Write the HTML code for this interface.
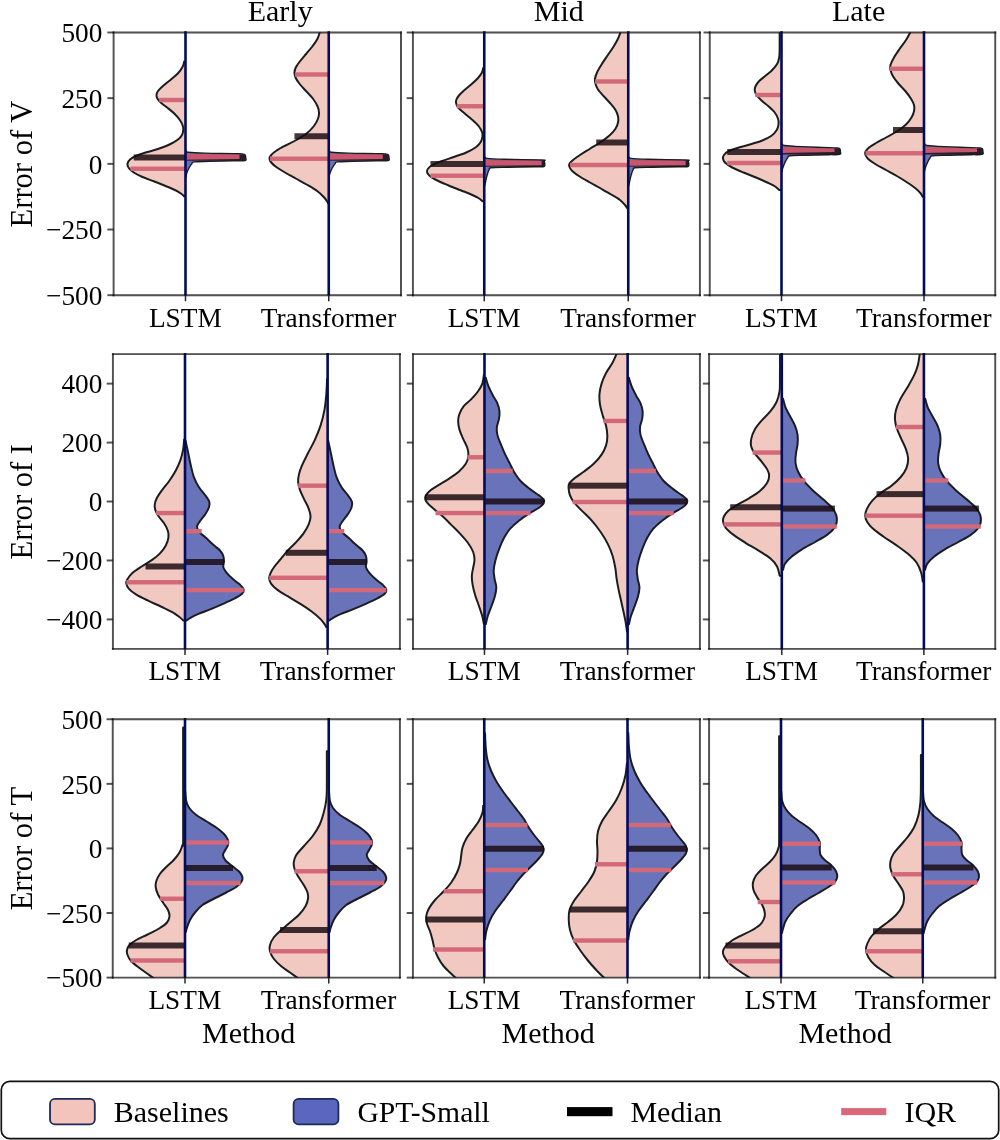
<!DOCTYPE html>
<html><head><meta charset="utf-8"><title>Violin plots</title>
<style>html,body{margin:0;padding:0;background:#fff;overflow:hidden}svg{display:block}text{font-family:"Liberation Serif", serif;fill:#000}</style></head>
<body>
<svg width="1000" height="1140" viewBox="0 0 1000 1140">
<rect width="1000" height="1140" fill="#fff"/>
<defs>
<clipPath id="c00"><rect x="113.6" y="32.5" width="287.4" height="262.7"/></clipPath>
<clipPath id="c01"><rect x="412.9" y="32.5" width="287" height="262.7"/></clipPath>
<clipPath id="c02"><rect x="709.75" y="32.5" width="285.5" height="262.7"/></clipPath>
<clipPath id="c10"><rect x="112.9" y="354.15" width="287" height="294.75"/></clipPath>
<clipPath id="c11"><rect x="413" y="354.15" width="286.9" height="294.75"/></clipPath>
<clipPath id="c12"><rect x="709.1" y="354.15" width="286.15" height="294.75"/></clipPath>
<clipPath id="c20"><rect x="112.75" y="719.25" width="287.15" height="258.35"/></clipPath>
<clipPath id="c21"><rect x="412.9" y="719.25" width="287" height="258.35"/></clipPath>
<clipPath id="c22"><rect x="709.1" y="719.25" width="286.15" height="258.35"/></clipPath>
<filter id="soft" x="0" y="0" width="1000" height="1070" filterUnits="userSpaceOnUse"><feGaussianBlur stdDeviation="0.45"/></filter>
<filter id="nop" x="0" y="1070" width="1000" height="70" filterUnits="userSpaceOnUse"><feOffset dx="0" dy="0"/></filter>
</defs>
<g filter="url(#soft)">
<g clip-path="url(#c00)">
<path d="M185.5 60.75 L184.5 60.75C184.17 61.79 183.58 64.92 182.5 67C181.42 69.08 179.88 71.21 178 73.25C176.12 75.29 173.62 77.25 171.25 79.25C168.88 81.25 165.92 83.33 163.75 85.25C161.58 87.17 159.46 89.12 158.25 90.75C157.04 92.38 156.62 93.67 156.5 95C156.38 96.33 156.71 97.42 157.5 98.75C158.29 100.08 159.5 101.42 161.25 103C163 104.58 165.79 106.46 168 108.25C170.21 110.04 172.58 111.88 174.5 113.75C176.42 115.62 178.17 117.62 179.5 119.5C180.83 121.38 181.88 123.25 182.5 125C183.12 126.75 183.33 128.33 183.25 130C183.17 131.67 182.88 133.42 182 135C181.12 136.58 180 137.96 178 139.5C176 141.04 173 142.79 170 144.25C167 145.71 163.75 146.96 160 148.25C156.25 149.54 151.46 150.75 147.5 152C143.54 153.25 139.17 154.5 136.25 155.75C133.33 157 131.46 158.17 130 159.5C128.54 160.83 127.71 162.33 127.5 163.75C127.29 165.17 127.71 166.54 128.75 168C129.79 169.46 131.46 171 133.75 172.5C136.04 174 139.17 175.54 142.5 177C145.83 178.46 150 179.79 153.75 181.25C157.5 182.71 161.46 184.29 165 185.75C168.54 187.21 172.29 188.67 175 190C177.71 191.33 179.75 192.71 181.25 193.75C182.75 194.79 183.54 195.83 184 196.25L185.5 196.25 Z" fill="#f1c9c0"/><path d="M184.5 60.75C184.17 61.79 183.58 64.92 182.5 67C181.42 69.08 179.88 71.21 178 73.25C176.12 75.29 173.62 77.25 171.25 79.25C168.88 81.25 165.92 83.33 163.75 85.25C161.58 87.17 159.46 89.12 158.25 90.75C157.04 92.38 156.62 93.67 156.5 95C156.38 96.33 156.71 97.42 157.5 98.75C158.29 100.08 159.5 101.42 161.25 103C163 104.58 165.79 106.46 168 108.25C170.21 110.04 172.58 111.88 174.5 113.75C176.42 115.62 178.17 117.62 179.5 119.5C180.83 121.38 181.88 123.25 182.5 125C183.12 126.75 183.33 128.33 183.25 130C183.17 131.67 182.88 133.42 182 135C181.12 136.58 180 137.96 178 139.5C176 141.04 173 142.79 170 144.25C167 145.71 163.75 146.96 160 148.25C156.25 149.54 151.46 150.75 147.5 152C143.54 153.25 139.17 154.5 136.25 155.75C133.33 157 131.46 158.17 130 159.5C128.54 160.83 127.71 162.33 127.5 163.75C127.29 165.17 127.71 166.54 128.75 168C129.79 169.46 131.46 171 133.75 172.5C136.04 174 139.17 175.54 142.5 177C145.83 178.46 150 179.79 153.75 181.25C157.5 182.71 161.46 184.29 165 185.75C168.54 187.21 172.29 188.67 175 190C177.71 191.33 179.75 192.71 181.25 193.75C182.75 194.79 183.54 195.83 184 196.25L185.5 196.25" fill="none" stroke="#1e1e1e" stroke-width="2.0" stroke-linejoin="round"/>
<path d="M185.5 150.6 L186.3 150.6C186.67 150.88 185.3 151.87 188.5 152.3C191.7 152.73 197 152.91 205.5 153.16C214 153.41 232.93 153.53 239.5 153.8C246.07 154.07 243.87 154.15 244.9 154.8C245.93 155.45 245.7 156.73 245.7 157.7C245.7 158.67 246.93 160.07 244.9 160.6C242.87 161.13 239.4 160.77 233.5 160.9C227.6 161.03 216.08 161.23 209.5 161.4C202.92 161.57 196.93 161.53 194 161.9C191.07 162.27 192.73 162.58 191.9 163.6C191.07 164.62 189.87 166.37 189 168C188.13 169.63 187.23 171.83 186.7 173.4C186.17 174.97 185.95 176.73 185.8 177.4L185.5 177.4 Z" fill="#6873ba"/><path d="M186.3 150.6C186.67 150.88 185.3 151.87 188.5 152.3C191.7 152.73 197 152.91 205.5 153.16C214 153.41 232.93 153.53 239.5 153.8C246.07 154.07 243.87 154.15 244.9 154.8C245.93 155.45 245.7 156.73 245.7 157.7C245.7 158.67 246.93 160.07 244.9 160.6C242.87 161.13 239.4 160.77 233.5 160.9C227.6 161.03 216.08 161.23 209.5 161.4C202.92 161.57 196.93 161.53 194 161.9C191.07 162.27 192.73 162.58 191.9 163.6C191.07 164.62 189.87 166.37 189 168C188.13 169.63 187.23 171.83 186.7 173.4C186.17 174.97 185.95 176.73 185.8 177.4" fill="none" stroke="#1e1e1e" stroke-width="1.4" stroke-linejoin="round"/>
<rect x="133.75" y="154.5" width="51.75" height="6" fill="rgba(22,10,14,0.82)"/>
<rect x="159.25" y="97.8" width="26.25" height="4.4" fill="#d36878"/>
<rect x="130.5" y="166.55" width="55" height="4.4" fill="#d36878"/>
<rect x="185.5" y="154.7" width="59.9" height="6" fill="rgba(22,10,14,0.82)"/>
<path d="M185.50 153.80 L239.50 154.50 L239.50 158.90 L185.50 159.70 Z" fill="#c9566c"/>
<path d="M328.75 30 L320.5 30C320 31.46 318.83 36.04 317.5 38.75C316.17 41.46 314.38 43.75 312.5 46.25C310.62 48.75 308.33 51.25 306.25 53.75C304.17 56.25 301.75 58.96 300 61.25C298.25 63.54 296.67 65.62 295.75 67.5C294.83 69.38 294.54 70.83 294.5 72.5C294.46 74.17 294.67 75.62 295.5 77.5C296.33 79.38 297.71 81.46 299.5 83.75C301.29 86.04 304 88.75 306.25 91.25C308.5 93.75 311.12 96.25 313 98.75C314.88 101.25 316.5 103.96 317.5 106.25C318.5 108.54 318.92 110.42 319 112.5C319.08 114.58 318.88 116.46 318 118.75C317.12 121.04 315.71 123.75 313.75 126.25C311.79 128.75 309.17 131.46 306.25 133.75C303.33 136.04 299.79 138 296.25 140C292.71 142 288.33 143.96 285 145.75C281.67 147.54 278.54 149.21 276.25 150.75C273.96 152.29 272.38 153.67 271.25 155C270.12 156.33 269.5 157.5 269.5 158.75C269.5 160 270.12 161.12 271.25 162.5C272.38 163.88 273.96 165.33 276.25 167C278.54 168.67 281.67 170.54 285 172.5C288.33 174.46 292.5 176.67 296.25 178.75C300 180.83 303.96 182.92 307.5 185C311.04 187.08 314.79 189.25 317.5 191.25C320.21 193.25 322.17 195.33 323.75 197C325.33 198.67 326.25 200.12 327 201.25C327.75 202.38 328.04 203.33 328.25 203.75L328.75 203.75 Z" fill="#f1c9c0"/><path d="M328.75 30 L320.5 30C320 31.46 318.83 36.04 317.5 38.75C316.17 41.46 314.38 43.75 312.5 46.25C310.62 48.75 308.33 51.25 306.25 53.75C304.17 56.25 301.75 58.96 300 61.25C298.25 63.54 296.67 65.62 295.75 67.5C294.83 69.38 294.54 70.83 294.5 72.5C294.46 74.17 294.67 75.62 295.5 77.5C296.33 79.38 297.71 81.46 299.5 83.75C301.29 86.04 304 88.75 306.25 91.25C308.5 93.75 311.12 96.25 313 98.75C314.88 101.25 316.5 103.96 317.5 106.25C318.5 108.54 318.92 110.42 319 112.5C319.08 114.58 318.88 116.46 318 118.75C317.12 121.04 315.71 123.75 313.75 126.25C311.79 128.75 309.17 131.46 306.25 133.75C303.33 136.04 299.79 138 296.25 140C292.71 142 288.33 143.96 285 145.75C281.67 147.54 278.54 149.21 276.25 150.75C273.96 152.29 272.38 153.67 271.25 155C270.12 156.33 269.5 157.5 269.5 158.75C269.5 160 270.12 161.12 271.25 162.5C272.38 163.88 273.96 165.33 276.25 167C278.54 168.67 281.67 170.54 285 172.5C288.33 174.46 292.5 176.67 296.25 178.75C300 180.83 303.96 182.92 307.5 185C311.04 187.08 314.79 189.25 317.5 191.25C320.21 193.25 322.17 195.33 323.75 197C325.33 198.67 326.25 200.12 327 201.25C327.75 202.38 328.04 203.33 328.25 203.75" fill="none" stroke="#1e1e1e" stroke-width="2.0" stroke-linejoin="round"/>
<path d="M328.75 150.6 L329.55 150.6C329.92 150.88 328.55 151.87 331.75 152.3C334.95 152.73 340.25 152.91 348.75 153.16C357.25 153.41 376.18 153.53 382.75 153.8C389.32 154.07 387.12 154.15 388.15 154.8C389.18 155.45 388.95 156.73 388.95 157.7C388.95 158.67 390.18 160.07 388.15 160.6C386.12 161.13 382.65 160.77 376.75 160.9C370.85 161.03 359.33 161.23 352.75 161.4C346.17 161.57 340.18 161.53 337.25 161.9C334.32 162.27 335.98 162.58 335.15 163.6C334.32 164.62 333.12 166.37 332.25 168C331.38 169.63 330.48 171.83 329.95 173.4C329.42 174.97 329.2 176.73 329.05 177.4L328.75 177.4 Z" fill="#6873ba"/><path d="M329.55 150.6C329.92 150.88 328.55 151.87 331.75 152.3C334.95 152.73 340.25 152.91 348.75 153.16C357.25 153.41 376.18 153.53 382.75 153.8C389.32 154.07 387.12 154.15 388.15 154.8C389.18 155.45 388.95 156.73 388.95 157.7C388.95 158.67 390.18 160.07 388.15 160.6C386.12 161.13 382.65 160.77 376.75 160.9C370.85 161.03 359.33 161.23 352.75 161.4C346.17 161.57 340.18 161.53 337.25 161.9C334.32 162.27 335.98 162.58 335.15 163.6C334.32 164.62 333.12 166.37 332.25 168C331.38 169.63 330.48 171.83 329.95 173.4C329.42 174.97 329.2 176.73 329.05 177.4" fill="none" stroke="#1e1e1e" stroke-width="1.4" stroke-linejoin="round"/>
<rect x="294.5" y="133.25" width="34.25" height="6" fill="rgba(22,10,14,0.82)"/>
<rect x="295" y="72.3" width="33.75" height="4.4" fill="#d36878"/>
<rect x="270" y="156.55" width="58.75" height="4.4" fill="#d36878"/>
<rect x="328.75" y="154.7" width="59.9" height="6" fill="rgba(22,10,14,0.82)"/>
<path d="M328.75 153.80 L382.75 154.50 L382.75 158.90 L328.75 159.70 Z" fill="#c9566c"/>
</g>
<line x1="185.5" y1="31.3" x2="185.5" y2="295.7" stroke="#03095c" stroke-width="2.6"/>
<line x1="328.75" y1="31.3" x2="328.75" y2="295.7" stroke="#03095c" stroke-width="2.6"/>
<line x1="113.6" y1="32.5" x2="401" y2="32.5" stroke="rgba(10,10,10,0.72)" stroke-width="1.9" stroke-linecap="square"/>
<line x1="113.6" y1="295.2" x2="401" y2="295.2" stroke="rgba(10,10,10,0.72)" stroke-width="1.9" stroke-linecap="square"/>
<line x1="113.6" y1="32.5" x2="113.6" y2="295.2" stroke="rgba(10,10,10,0.72)" stroke-width="1.9" stroke-linecap="square"/>
<line x1="401" y1="32.5" x2="401" y2="295.2" stroke="rgba(10,10,10,0.72)" stroke-width="1.9" stroke-linecap="square"/>
<line x1="107.4" y1="32.5" x2="113.6" y2="32.5" stroke="rgba(10,10,10,0.72)" stroke-width="1.9"/>
<text x="102.4" y="42.2" font-size="27.3" text-anchor="end">500</text>
<line x1="107.4" y1="98.17" x2="113.6" y2="98.17" stroke="rgba(10,10,10,0.72)" stroke-width="1.9"/>
<text x="102.4" y="107.88" font-size="27.3" text-anchor="end">250</text>
<line x1="107.4" y1="163.85" x2="113.6" y2="163.85" stroke="rgba(10,10,10,0.72)" stroke-width="1.9"/>
<text x="102.4" y="173.55" font-size="27.3" text-anchor="end">0</text>
<line x1="107.4" y1="229.52" x2="113.6" y2="229.52" stroke="rgba(10,10,10,0.72)" stroke-width="1.9"/>
<text x="102.4" y="239.22" font-size="27.3" text-anchor="end">−250</text>
<line x1="107.4" y1="295.2" x2="113.6" y2="295.2" stroke="rgba(10,10,10,0.72)" stroke-width="1.9"/>
<text x="102.4" y="304.9" font-size="27.3" text-anchor="end">−500</text>
<line x1="185.5" y1="295.2" x2="185.5" y2="301.2" stroke="#26262c" stroke-width="1.5"/>
<text x="185.3" y="326.7" font-size="27.3" text-anchor="middle">LSTM</text>
<line x1="328.75" y1="295.2" x2="328.75" y2="301.2" stroke="#26262c" stroke-width="1.5"/>
<text x="328.55" y="326.7" font-size="27.3" text-anchor="middle">Transformer</text>
<g clip-path="url(#c01)">
<path d="M484.25 67.5 L483.25 67.5C483.04 68.33 482.88 70.75 482 72.5C481.12 74.25 479.67 76.12 478 78C476.33 79.88 474.25 81.75 472 83.75C469.75 85.75 466.71 88 464.5 90C462.29 92 460.12 94.08 458.75 95.75C457.38 97.42 456.67 98.67 456.25 100C455.83 101.33 455.83 102.38 456.25 103.75C456.67 105.12 457.29 106.58 458.75 108.25C460.21 109.92 462.71 111.79 465 113.75C467.29 115.71 470.21 117.92 472.5 120C474.79 122.08 477.17 124.25 478.75 126.25C480.33 128.25 481.38 130.33 482 132C482.62 133.67 482.71 134.58 482.5 136.25C482.29 137.92 481.92 140.12 480.75 142C479.58 143.88 477.92 145.75 475.5 147.5C473.08 149.25 469.88 150.92 466.25 152.5C462.62 154.08 457.92 155.54 453.75 157C449.58 158.46 444.79 159.92 441.25 161.25C437.71 162.58 434.71 163.75 432.5 165C430.29 166.25 428.92 167.58 428 168.75C427.08 169.92 426.75 170.83 427 172C427.25 173.17 427.96 174.42 429.5 175.75C431.04 177.08 433.25 178.46 436.25 180C439.25 181.54 443.54 183.33 447.5 185C451.46 186.67 456.04 188.42 460 190C463.96 191.58 468.12 193.12 471.25 194.5C474.38 195.88 476.88 197.12 478.75 198.25C480.62 199.38 481.88 200.75 482.5 201.25L484.25 201.25 Z" fill="#f1c9c0"/><path d="M483.25 67.5C483.04 68.33 482.88 70.75 482 72.5C481.12 74.25 479.67 76.12 478 78C476.33 79.88 474.25 81.75 472 83.75C469.75 85.75 466.71 88 464.5 90C462.29 92 460.12 94.08 458.75 95.75C457.38 97.42 456.67 98.67 456.25 100C455.83 101.33 455.83 102.38 456.25 103.75C456.67 105.12 457.29 106.58 458.75 108.25C460.21 109.92 462.71 111.79 465 113.75C467.29 115.71 470.21 117.92 472.5 120C474.79 122.08 477.17 124.25 478.75 126.25C480.33 128.25 481.38 130.33 482 132C482.62 133.67 482.71 134.58 482.5 136.25C482.29 137.92 481.92 140.12 480.75 142C479.58 143.88 477.92 145.75 475.5 147.5C473.08 149.25 469.88 150.92 466.25 152.5C462.62 154.08 457.92 155.54 453.75 157C449.58 158.46 444.79 159.92 441.25 161.25C437.71 162.58 434.71 163.75 432.5 165C430.29 166.25 428.92 167.58 428 168.75C427.08 169.92 426.75 170.83 427 172C427.25 173.17 427.96 174.42 429.5 175.75C431.04 177.08 433.25 178.46 436.25 180C439.25 181.54 443.54 183.33 447.5 185C451.46 186.67 456.04 188.42 460 190C463.96 191.58 468.12 193.12 471.25 194.5C474.38 195.88 476.88 197.12 478.75 198.25C480.62 199.38 481.88 200.75 482.5 201.25L484.25 201.25" fill="none" stroke="#1e1e1e" stroke-width="2.0" stroke-linejoin="round"/>
<path d="M484.25 156.7 L485.05 156.7C485.42 156.98 484.05 157.97 487.25 158.4C490.45 158.83 495.18 159.01 504.25 159.28C513.32 159.55 535.03 159.76 541.65 160C548.27 160.24 543.43 160.1 543.95 160.7C544.47 161.3 544.75 162.63 544.75 163.6C544.75 164.57 545.47 165.97 543.95 166.5C542.43 167.03 541.6 166.67 535.65 166.8C529.7 166.93 515.65 167.13 508.25 167.3C500.85 167.47 494.43 167.43 491.25 167.8C488.07 168.17 489.86 168.21 489.15 169.5C488.44 170.79 487.62 173.42 487 175.55C486.38 177.68 485.86 180.51 485.45 182.3C485.04 184.09 484.7 185.63 484.55 186.3L484.25 186.3 Z" fill="#6873ba"/><path d="M485.05 156.7C485.42 156.98 484.05 157.97 487.25 158.4C490.45 158.83 495.18 159.01 504.25 159.28C513.32 159.55 535.03 159.76 541.65 160C548.27 160.24 543.43 160.1 543.95 160.7C544.47 161.3 544.75 162.63 544.75 163.6C544.75 164.57 545.47 165.97 543.95 166.5C542.43 167.03 541.6 166.67 535.65 166.8C529.7 166.93 515.65 167.13 508.25 167.3C500.85 167.47 494.43 167.43 491.25 167.8C488.07 168.17 489.86 168.21 489.15 169.5C488.44 170.79 487.62 173.42 487 175.55C486.38 177.68 485.86 180.51 485.45 182.3C485.04 184.09 484.7 185.63 484.55 186.3" fill="none" stroke="#1e1e1e" stroke-width="1.4" stroke-linejoin="round"/>
<rect x="430.5" y="161" width="53.75" height="6" fill="rgba(22,10,14,0.82)"/>
<rect x="456.75" y="104.05" width="27.5" height="4.4" fill="#d36878"/>
<rect x="430.5" y="173.55" width="53.75" height="4.4" fill="#d36878"/>
<rect x="484.25" y="160.6" width="60.2" height="6" fill="rgba(22,10,14,0.82)"/>
<path d="M484.25 159.90 L541.65 160.70 L541.65 165.30 L484.25 165.70 Z" fill="#c9566c"/>
<path d="M628.25 30 L621.25 30C620.71 31.46 619.38 35.83 618 38.75C616.62 41.67 614.83 44.58 613 47.5C611.17 50.42 608.96 53.33 607 56.25C605.04 59.17 602.92 62.29 601.25 65C599.58 67.71 598.04 70.21 597 72.5C595.96 74.79 595.25 76.88 595 78.75C594.75 80.62 595 81.96 595.5 83.75C596 85.54 596.62 87.42 598 89.5C599.38 91.58 601.75 94 603.75 96.25C605.75 98.5 608.04 100.71 610 103C611.96 105.29 614.17 107.79 615.5 110C616.83 112.21 617.58 114.17 618 116.25C618.42 118.33 618.42 120.42 618 122.5C617.58 124.58 616.83 126.67 615.5 128.75C614.17 130.83 612.38 132.83 610 135C607.62 137.17 604.58 139.46 601.25 141.75C597.92 144.04 593.54 146.54 590 148.75C586.46 150.96 582.83 153.12 580 155C577.17 156.88 574.75 158.54 573 160C571.25 161.46 570.08 162.58 569.5 163.75C568.92 164.92 569 165.75 569.5 167C570 168.25 570.75 169.62 572.5 171.25C574.25 172.88 577.08 174.88 580 176.75C582.92 178.62 586.46 180.5 590 182.5C593.54 184.5 597.71 186.75 601.25 188.75C604.79 190.75 608.12 192.62 611.25 194.5C614.38 196.38 617.71 198.25 620 200C622.29 201.75 623.75 203.54 625 205C626.25 206.46 627.08 208.12 627.5 208.75L628.25 208.75 Z" fill="#f1c9c0"/><path d="M628.25 30 L621.25 30C620.71 31.46 619.38 35.83 618 38.75C616.62 41.67 614.83 44.58 613 47.5C611.17 50.42 608.96 53.33 607 56.25C605.04 59.17 602.92 62.29 601.25 65C599.58 67.71 598.04 70.21 597 72.5C595.96 74.79 595.25 76.88 595 78.75C594.75 80.62 595 81.96 595.5 83.75C596 85.54 596.62 87.42 598 89.5C599.38 91.58 601.75 94 603.75 96.25C605.75 98.5 608.04 100.71 610 103C611.96 105.29 614.17 107.79 615.5 110C616.83 112.21 617.58 114.17 618 116.25C618.42 118.33 618.42 120.42 618 122.5C617.58 124.58 616.83 126.67 615.5 128.75C614.17 130.83 612.38 132.83 610 135C607.62 137.17 604.58 139.46 601.25 141.75C597.92 144.04 593.54 146.54 590 148.75C586.46 150.96 582.83 153.12 580 155C577.17 156.88 574.75 158.54 573 160C571.25 161.46 570.08 162.58 569.5 163.75C568.92 164.92 569 165.75 569.5 167C570 168.25 570.75 169.62 572.5 171.25C574.25 172.88 577.08 174.88 580 176.75C582.92 178.62 586.46 180.5 590 182.5C593.54 184.5 597.71 186.75 601.25 188.75C604.79 190.75 608.12 192.62 611.25 194.5C614.38 196.38 617.71 198.25 620 200C622.29 201.75 623.75 203.54 625 205C626.25 206.46 627.08 208.12 627.5 208.75" fill="none" stroke="#1e1e1e" stroke-width="2.0" stroke-linejoin="round"/>
<path d="M628.25 156.7 L629.05 156.7C629.42 156.98 628.05 157.97 631.25 158.4C634.45 158.83 639.18 159.01 648.25 159.28C657.32 159.55 679.03 159.76 685.65 160C692.27 160.24 687.43 160.1 687.95 160.7C688.47 161.3 688.75 162.63 688.75 163.6C688.75 164.57 689.47 165.97 687.95 166.5C686.43 167.03 685.6 166.67 679.65 166.8C673.7 166.93 659.65 167.13 652.25 167.3C644.85 167.47 638.43 167.43 635.25 167.8C632.07 168.17 633.86 168.21 633.15 169.5C632.44 170.79 631.62 173.42 631 175.55C630.38 177.68 629.86 180.51 629.45 182.3C629.04 184.09 628.7 185.63 628.55 186.3L628.25 186.3 Z" fill="#6873ba"/><path d="M629.05 156.7C629.42 156.98 628.05 157.97 631.25 158.4C634.45 158.83 639.18 159.01 648.25 159.28C657.32 159.55 679.03 159.76 685.65 160C692.27 160.24 687.43 160.1 687.95 160.7C688.47 161.3 688.75 162.63 688.75 163.6C688.75 164.57 689.47 165.97 687.95 166.5C686.43 167.03 685.6 166.67 679.65 166.8C673.7 166.93 659.65 167.13 652.25 167.3C644.85 167.47 638.43 167.43 635.25 167.8C632.07 168.17 633.86 168.21 633.15 169.5C632.44 170.79 631.62 173.42 631 175.55C630.38 177.68 629.86 180.51 629.45 182.3C629.04 184.09 628.7 185.63 628.55 186.3" fill="none" stroke="#1e1e1e" stroke-width="1.4" stroke-linejoin="round"/>
<rect x="596.25" y="139.5" width="32" height="6" fill="rgba(22,10,14,0.82)"/>
<rect x="595" y="79.3" width="33.25" height="4.4" fill="#d36878"/>
<rect x="570" y="162.8" width="58.25" height="4.4" fill="#d36878"/>
<rect x="628.25" y="160.6" width="60.2" height="6" fill="rgba(22,10,14,0.82)"/>
<path d="M628.25 159.90 L685.65 160.70 L685.65 165.30 L628.25 165.70 Z" fill="#c9566c"/>
</g>
<line x1="484.25" y1="31.3" x2="484.25" y2="295.7" stroke="#03095c" stroke-width="2.6"/>
<line x1="628.25" y1="31.3" x2="628.25" y2="295.7" stroke="#03095c" stroke-width="2.6"/>
<line x1="412.9" y1="32.5" x2="699.9" y2="32.5" stroke="rgba(10,10,10,0.72)" stroke-width="1.9" stroke-linecap="square"/>
<line x1="412.9" y1="295.2" x2="699.9" y2="295.2" stroke="rgba(10,10,10,0.72)" stroke-width="1.9" stroke-linecap="square"/>
<line x1="412.9" y1="32.5" x2="412.9" y2="295.2" stroke="rgba(10,10,10,0.72)" stroke-width="1.9" stroke-linecap="square"/>
<line x1="699.9" y1="32.5" x2="699.9" y2="295.2" stroke="rgba(10,10,10,0.72)" stroke-width="1.9" stroke-linecap="square"/>
<line x1="406.7" y1="32.5" x2="412.9" y2="32.5" stroke="rgba(10,10,10,0.72)" stroke-width="1.9"/>
<line x1="406.7" y1="98.17" x2="412.9" y2="98.17" stroke="rgba(10,10,10,0.72)" stroke-width="1.9"/>
<line x1="406.7" y1="163.85" x2="412.9" y2="163.85" stroke="rgba(10,10,10,0.72)" stroke-width="1.9"/>
<line x1="406.7" y1="229.52" x2="412.9" y2="229.52" stroke="rgba(10,10,10,0.72)" stroke-width="1.9"/>
<line x1="406.7" y1="295.2" x2="412.9" y2="295.2" stroke="rgba(10,10,10,0.72)" stroke-width="1.9"/>
<line x1="484.25" y1="295.2" x2="484.25" y2="301.2" stroke="#26262c" stroke-width="1.5"/>
<text x="484.05" y="326.7" font-size="27.3" text-anchor="middle">LSTM</text>
<line x1="628.25" y1="295.2" x2="628.25" y2="301.2" stroke="#26262c" stroke-width="1.5"/>
<text x="628.05" y="326.7" font-size="27.3" text-anchor="middle">Transformer</text>
<g clip-path="url(#c02)">
<path d="M781.5 30 L779.65 30C779.65 32.08 779.66 38.96 779.65 42.5C779.64 46.04 779.69 48.67 779.6 51.25C779.51 53.83 779.52 55.92 779.12 58C778.73 60.08 778.4 61.75 777.25 63.75C776.1 65.75 774.21 68 772.25 70C770.29 72 767.71 73.88 765.5 75.75C763.29 77.62 760.67 79.5 759 81.25C757.33 83 756.21 84.71 755.5 86.25C754.79 87.79 754.58 89.04 754.75 90.5C754.92 91.96 755.38 93.33 756.5 95C757.62 96.67 759.5 98.62 761.5 100.5C763.5 102.38 766.29 104.25 768.5 106.25C770.71 108.25 773.17 110.42 774.75 112.5C776.33 114.58 777.38 116.75 778 118.75C778.62 120.75 778.71 122.62 778.5 124.5C778.29 126.38 777.92 128.12 776.75 130C775.58 131.88 773.92 134 771.5 135.75C769.08 137.5 765.88 139.04 762.25 140.5C758.62 141.96 753.92 143.25 749.75 144.5C745.58 145.75 740.79 146.88 737.25 148C733.71 149.12 730.71 150.08 728.5 151.25C726.29 152.42 724.92 153.75 724 155C723.08 156.25 722.75 157.42 723 158.75C723.25 160.08 723.96 161.54 725.5 163C727.04 164.46 729.25 165.92 732.25 167.5C735.25 169.08 739.54 170.83 743.5 172.5C747.46 174.17 752.04 175.83 756 177.5C759.96 179.17 764.12 181.04 767.25 182.5C770.38 183.96 772.75 185 774.75 186.25C776.75 187.5 778.5 189.38 779.25 190L781.5 190 Z" fill="#f1c9c0"/><path d="M781.5 30 L779.65 30C779.65 32.08 779.66 38.96 779.65 42.5C779.64 46.04 779.69 48.67 779.6 51.25C779.51 53.83 779.52 55.92 779.12 58C778.73 60.08 778.4 61.75 777.25 63.75C776.1 65.75 774.21 68 772.25 70C770.29 72 767.71 73.88 765.5 75.75C763.29 77.62 760.67 79.5 759 81.25C757.33 83 756.21 84.71 755.5 86.25C754.79 87.79 754.58 89.04 754.75 90.5C754.92 91.96 755.38 93.33 756.5 95C757.62 96.67 759.5 98.62 761.5 100.5C763.5 102.38 766.29 104.25 768.5 106.25C770.71 108.25 773.17 110.42 774.75 112.5C776.33 114.58 777.38 116.75 778 118.75C778.62 120.75 778.71 122.62 778.5 124.5C778.29 126.38 777.92 128.12 776.75 130C775.58 131.88 773.92 134 771.5 135.75C769.08 137.5 765.88 139.04 762.25 140.5C758.62 141.96 753.92 143.25 749.75 144.5C745.58 145.75 740.79 146.88 737.25 148C733.71 149.12 730.71 150.08 728.5 151.25C726.29 152.42 724.92 153.75 724 155C723.08 156.25 722.75 157.42 723 158.75C723.25 160.08 723.96 161.54 725.5 163C727.04 164.46 729.25 165.92 732.25 167.5C735.25 169.08 739.54 170.83 743.5 172.5C747.46 174.17 752.04 175.83 756 177.5C759.96 179.17 764.12 181.04 767.25 182.5C770.38 183.96 772.75 185 774.75 186.25C776.75 187.5 778.5 189.38 779.25 190L781.5 190" fill="none" stroke="#1e1e1e" stroke-width="2.0" stroke-linejoin="round"/>
<path d="M781.5 143.8 L782.3 143.8C782.67 144.08 781.3 145.02 784.5 145.5C787.7 145.98 793.17 146.3 801.5 146.7C809.83 147.1 828.15 147.58 834.5 147.9C840.85 148.22 838.62 148 839.6 148.6C840.58 149.2 840.4 150.53 840.4 151.5C840.4 152.47 841.58 153.87 839.6 154.4C837.62 154.93 834.18 154.57 828.5 154.7C822.82 154.83 811.92 155.03 805.5 155.2C799.08 155.37 792.93 155.33 790 155.7C787.07 156.07 788.73 156.29 787.9 157.4C787.07 158.51 785.87 160.55 785 162.35C784.13 164.15 783.23 166.56 782.7 168.2C782.17 169.84 781.95 171.53 781.8 172.2L781.5 172.2 Z" fill="#6873ba"/><path d="M782.3 143.8C782.67 144.08 781.3 145.02 784.5 145.5C787.7 145.98 793.17 146.3 801.5 146.7C809.83 147.1 828.15 147.58 834.5 147.9C840.85 148.22 838.62 148 839.6 148.6C840.58 149.2 840.4 150.53 840.4 151.5C840.4 152.47 841.58 153.87 839.6 154.4C837.62 154.93 834.18 154.57 828.5 154.7C822.82 154.83 811.92 155.03 805.5 155.2C799.08 155.37 792.93 155.33 790 155.7C787.07 156.07 788.73 156.29 787.9 157.4C787.07 158.51 785.87 160.55 785 162.35C784.13 164.15 783.23 166.56 782.7 168.2C782.17 169.84 781.95 171.53 781.8 172.2" fill="none" stroke="#1e1e1e" stroke-width="1.4" stroke-linejoin="round"/>
<rect x="727.25" y="149" width="54.25" height="6" fill="rgba(22,10,14,0.82)"/>
<rect x="755.25" y="92.8" width="26.25" height="4.4" fill="#d36878"/>
<rect x="727.25" y="160.8" width="54.25" height="4.4" fill="#d36878"/>
<rect x="781.5" y="148.5" width="58.6" height="6" fill="rgba(22,10,14,0.82)"/>
<path d="M781.50 147.00 L834.50 148.60 L834.50 152.10 L781.50 153.00 Z" fill="#c9566c"/>
<path d="M924 30 L911.5 30C910.58 31.67 907.96 36.88 906 40C904.04 43.12 901.75 45.83 899.75 48.75C897.75 51.67 895.54 54.79 894 57.5C892.46 60.21 891.08 62.92 890.5 65C889.92 67.08 890.08 68.12 890.5 70C890.92 71.88 891.67 73.96 893 76.25C894.33 78.54 896.42 81.25 898.5 83.75C900.58 86.25 903.42 88.75 905.5 91.25C907.58 93.75 909.58 96.46 911 98.75C912.42 101.04 913.5 102.92 914 105C914.5 107.08 914.42 109.17 914 111.25C913.58 113.33 912.83 115.29 911.5 117.5C910.17 119.71 908.38 122.21 906 124.5C903.62 126.79 900.58 129.08 897.25 131.25C893.92 133.42 889.54 135.54 886 137.5C882.46 139.46 878.83 141.33 876 143C873.17 144.67 870.75 146.04 869 147.5C867.25 148.96 866.08 150.5 865.5 151.75C864.92 153 865 153.75 865.5 155C866 156.25 866.75 157.67 868.5 159.25C870.25 160.83 873.08 162.71 876 164.5C878.92 166.29 882.46 168.04 886 170C889.54 171.96 893.71 174.17 897.25 176.25C900.79 178.33 904.12 180.42 907.25 182.5C910.38 184.58 913.71 186.88 916 188.75C918.29 190.62 919.83 192.29 921 193.75C922.17 195.21 922.67 196.88 923 197.5L924 197.5 Z" fill="#f1c9c0"/><path d="M924 30 L911.5 30C910.58 31.67 907.96 36.88 906 40C904.04 43.12 901.75 45.83 899.75 48.75C897.75 51.67 895.54 54.79 894 57.5C892.46 60.21 891.08 62.92 890.5 65C889.92 67.08 890.08 68.12 890.5 70C890.92 71.88 891.67 73.96 893 76.25C894.33 78.54 896.42 81.25 898.5 83.75C900.58 86.25 903.42 88.75 905.5 91.25C907.58 93.75 909.58 96.46 911 98.75C912.42 101.04 913.5 102.92 914 105C914.5 107.08 914.42 109.17 914 111.25C913.58 113.33 912.83 115.29 911.5 117.5C910.17 119.71 908.38 122.21 906 124.5C903.62 126.79 900.58 129.08 897.25 131.25C893.92 133.42 889.54 135.54 886 137.5C882.46 139.46 878.83 141.33 876 143C873.17 144.67 870.75 146.04 869 147.5C867.25 148.96 866.08 150.5 865.5 151.75C864.92 153 865 153.75 865.5 155C866 156.25 866.75 157.67 868.5 159.25C870.25 160.83 873.08 162.71 876 164.5C878.92 166.29 882.46 168.04 886 170C889.54 171.96 893.71 174.17 897.25 176.25C900.79 178.33 904.12 180.42 907.25 182.5C910.38 184.58 913.71 186.88 916 188.75C918.29 190.62 919.83 192.29 921 193.75C922.17 195.21 922.67 196.88 923 197.5" fill="none" stroke="#1e1e1e" stroke-width="2.0" stroke-linejoin="round"/>
<path d="M924 143.8 L924.8 143.8C925.17 144.08 923.8 145.02 927 145.5C930.2 145.98 935.67 146.3 944 146.7C952.33 147.1 970.65 147.58 977 147.9C983.35 148.22 981.12 148 982.1 148.6C983.08 149.2 982.9 150.53 982.9 151.5C982.9 152.47 984.08 153.87 982.1 154.4C980.12 154.93 976.68 154.57 971 154.7C965.32 154.83 954.42 155.03 948 155.2C941.58 155.37 935.43 155.33 932.5 155.7C929.57 156.07 931.23 156.29 930.4 157.4C929.57 158.51 928.37 160.55 927.5 162.35C926.63 164.15 925.73 166.56 925.2 168.2C924.67 169.84 924.45 171.53 924.3 172.2L924 172.2 Z" fill="#6873ba"/><path d="M924.8 143.8C925.17 144.08 923.8 145.02 927 145.5C930.2 145.98 935.67 146.3 944 146.7C952.33 147.1 970.65 147.58 977 147.9C983.35 148.22 981.12 148 982.1 148.6C983.08 149.2 982.9 150.53 982.9 151.5C982.9 152.47 984.08 153.87 982.1 154.4C980.12 154.93 976.68 154.57 971 154.7C965.32 154.83 954.42 155.03 948 155.2C941.58 155.37 935.43 155.33 932.5 155.7C929.57 156.07 931.23 156.29 930.4 157.4C929.57 158.51 928.37 160.55 927.5 162.35C926.63 164.15 925.73 166.56 925.2 168.2C924.67 169.84 924.45 171.53 924.3 172.2" fill="none" stroke="#1e1e1e" stroke-width="1.4" stroke-linejoin="round"/>
<rect x="893" y="127" width="31" height="6" fill="rgba(22,10,14,0.82)"/>
<rect x="889.75" y="66.55" width="34.25" height="4.4" fill="#d36878"/>
<rect x="865.5" y="151.05" width="58.5" height="4.4" fill="#d36878"/>
<rect x="924" y="148.5" width="58.6" height="6" fill="rgba(22,10,14,0.82)"/>
<path d="M924.00 147.00 L977.00 148.60 L977.00 152.10 L924.00 153.00 Z" fill="#c9566c"/>
</g>
<line x1="781.5" y1="31.3" x2="781.5" y2="295.7" stroke="#03095c" stroke-width="2.6"/>
<line x1="924" y1="31.3" x2="924" y2="295.7" stroke="#03095c" stroke-width="2.6"/>
<line x1="709.75" y1="32.5" x2="995.25" y2="32.5" stroke="rgba(10,10,10,0.72)" stroke-width="1.9" stroke-linecap="square"/>
<line x1="709.75" y1="295.2" x2="995.25" y2="295.2" stroke="rgba(10,10,10,0.72)" stroke-width="1.9" stroke-linecap="square"/>
<line x1="709.75" y1="32.5" x2="709.75" y2="295.2" stroke="rgba(10,10,10,0.72)" stroke-width="1.9" stroke-linecap="square"/>
<line x1="995.25" y1="32.5" x2="995.25" y2="295.2" stroke="rgba(10,10,10,0.72)" stroke-width="1.9" stroke-linecap="square"/>
<line x1="703.55" y1="32.5" x2="709.75" y2="32.5" stroke="rgba(10,10,10,0.72)" stroke-width="1.9"/>
<line x1="703.55" y1="98.17" x2="709.75" y2="98.17" stroke="rgba(10,10,10,0.72)" stroke-width="1.9"/>
<line x1="703.55" y1="163.85" x2="709.75" y2="163.85" stroke="rgba(10,10,10,0.72)" stroke-width="1.9"/>
<line x1="703.55" y1="229.52" x2="709.75" y2="229.52" stroke="rgba(10,10,10,0.72)" stroke-width="1.9"/>
<line x1="703.55" y1="295.2" x2="709.75" y2="295.2" stroke="rgba(10,10,10,0.72)" stroke-width="1.9"/>
<line x1="781.5" y1="295.2" x2="781.5" y2="301.2" stroke="#26262c" stroke-width="1.5"/>
<text x="781.3" y="326.7" font-size="27.3" text-anchor="middle">LSTM</text>
<line x1="924" y1="295.2" x2="924" y2="301.2" stroke="#26262c" stroke-width="1.5"/>
<text x="923.8" y="326.7" font-size="27.3" text-anchor="middle">Transformer</text>
<text transform="translate(32.4 164.05) rotate(-90)" font-size="30.6" text-anchor="middle">Error of V</text>
<g clip-path="url(#c10)">
<path d="M185 438.84 L184.21 438.84C184.04 440.6 183.77 445.86 183.16 449.37C182.54 452.88 181.75 456.39 180.53 459.89C179.3 463.4 177.68 466.91 175.79 470.42C173.9 473.93 171.49 477.66 169.21 480.95C166.93 484.24 164.17 487.31 162.11 490.16C160.04 493.01 158.07 495.64 156.84 498.05C155.61 500.46 155 502.66 154.74 504.63C154.47 506.61 154.61 507.92 155.26 509.89C155.92 511.87 157.24 514.28 158.68 516.47C160.13 518.67 162.41 520.64 163.95 523.05C165.48 525.46 167.15 528.54 167.89 530.95C168.64 533.36 168.77 535.11 168.42 537.53C168.07 539.94 167.19 542.79 165.79 545.42C164.39 548.05 162.28 550.9 160 553.32C157.72 555.73 155.18 557.7 152.11 559.89C149.04 562.09 144.87 564.28 141.58 566.47C138.29 568.67 134.78 570.86 132.37 573.05C129.96 575.25 128.11 577.88 127.11 579.63C126.1 581.39 126.01 582.04 126.32 583.58C126.62 585.11 127.28 587 128.95 588.84C130.61 590.68 133.11 592.66 136.32 594.63C139.52 596.61 143.99 598.67 148.16 600.68C152.32 602.7 157.15 604.76 161.32 606.74C165.48 608.71 170.09 610.77 173.16 612.53C176.23 614.28 178.07 615.95 179.74 617.26C181.4 618.58 182.59 619.89 183.16 620.42L185 620.42 Z" fill="#f1c9c0"/><path d="M184.21 438.84C184.04 440.6 183.77 445.86 183.16 449.37C182.54 452.88 181.75 456.39 180.53 459.89C179.3 463.4 177.68 466.91 175.79 470.42C173.9 473.93 171.49 477.66 169.21 480.95C166.93 484.24 164.17 487.31 162.11 490.16C160.04 493.01 158.07 495.64 156.84 498.05C155.61 500.46 155 502.66 154.74 504.63C154.47 506.61 154.61 507.92 155.26 509.89C155.92 511.87 157.24 514.28 158.68 516.47C160.13 518.67 162.41 520.64 163.95 523.05C165.48 525.46 167.15 528.54 167.89 530.95C168.64 533.36 168.77 535.11 168.42 537.53C168.07 539.94 167.19 542.79 165.79 545.42C164.39 548.05 162.28 550.9 160 553.32C157.72 555.73 155.18 557.7 152.11 559.89C149.04 562.09 144.87 564.28 141.58 566.47C138.29 568.67 134.78 570.86 132.37 573.05C129.96 575.25 128.11 577.88 127.11 579.63C126.1 581.39 126.01 582.04 126.32 583.58C126.62 585.11 127.28 587 128.95 588.84C130.61 590.68 133.11 592.66 136.32 594.63C139.52 596.61 143.99 598.67 148.16 600.68C152.32 602.7 157.15 604.76 161.32 606.74C165.48 608.71 170.09 610.77 173.16 612.53C176.23 614.28 178.07 615.95 179.74 617.26C181.4 618.58 182.59 619.89 183.16 620.42L185 620.42" fill="none" stroke="#1e1e1e" stroke-width="2.0" stroke-linejoin="round"/>
<path d="M185 440 L185.4 440C185.8 441.83 186.95 447 187.8 451C188.65 455 189.5 459.7 190.5 464C191.5 468.3 192.42 472.97 193.8 476.8C195.18 480.63 196.88 483.92 198.8 487C200.72 490.08 203.55 492.85 205.3 495.3C207.05 497.75 208.68 499.72 209.3 501.7C209.92 503.68 209.62 505.2 209 507.2C208.38 509.2 207.08 511.4 205.6 513.7C204.12 516 201.53 518.85 200.1 521C198.67 523.15 197.12 524.75 197 526.6C196.88 528.45 197.97 530.27 199.4 532.1C200.83 533.93 203.23 535.45 205.6 537.6C207.97 539.75 211.2 542.85 213.6 545C216 547.15 218.38 548.67 220 550.5C221.62 552.33 222.63 554.15 223.3 556C223.97 557.85 224 559.75 224 561.6C224 563.45 222.88 565.27 223.3 567.1C223.72 568.93 224.9 570.6 226.5 572.6C228.1 574.6 230.67 577.1 232.9 579.1C235.13 581.1 238.12 582.92 239.9 584.6C241.68 586.28 243.23 587.67 243.6 589.2C243.97 590.73 243.58 592.27 242.1 593.8C240.62 595.33 237.77 596.77 234.7 598.4C231.63 600.03 227.68 601.82 223.7 603.6C219.72 605.38 215.1 607.35 210.8 609.1C206.5 610.85 201.43 612.57 197.9 614.1C194.37 615.63 191.5 617.23 189.6 618.3C187.7 619.37 187.02 620.13 186.5 620.5L185 620.5 Z" fill="#6873ba"/><path d="M185.4 440C185.8 441.83 186.95 447 187.8 451C188.65 455 189.5 459.7 190.5 464C191.5 468.3 192.42 472.97 193.8 476.8C195.18 480.63 196.88 483.92 198.8 487C200.72 490.08 203.55 492.85 205.3 495.3C207.05 497.75 208.68 499.72 209.3 501.7C209.92 503.68 209.62 505.2 209 507.2C208.38 509.2 207.08 511.4 205.6 513.7C204.12 516 201.53 518.85 200.1 521C198.67 523.15 197.12 524.75 197 526.6C196.88 528.45 197.97 530.27 199.4 532.1C200.83 533.93 203.23 535.45 205.6 537.6C207.97 539.75 211.2 542.85 213.6 545C216 547.15 218.38 548.67 220 550.5C221.62 552.33 222.63 554.15 223.3 556C223.97 557.85 224 559.75 224 561.6C224 563.45 222.88 565.27 223.3 567.1C223.72 568.93 224.9 570.6 226.5 572.6C228.1 574.6 230.67 577.1 232.9 579.1C235.13 581.1 238.12 582.92 239.9 584.6C241.68 586.28 243.23 587.67 243.6 589.2C243.97 590.73 243.58 592.27 242.1 593.8C240.62 595.33 237.77 596.77 234.7 598.4C231.63 600.03 227.68 601.82 223.7 603.6C219.72 605.38 215.1 607.35 210.8 609.1C206.5 610.85 201.43 612.57 197.9 614.1C194.37 615.63 191.5 617.23 189.6 618.3C187.7 619.37 187.02 620.13 186.5 620.5L185 620.5" fill="none" stroke="#1e1e1e" stroke-width="2.0" stroke-linejoin="round"/>
<rect x="145.53" y="563.47" width="39.47" height="6" fill="rgba(22,10,14,0.82)"/>
<rect x="156.05" y="510.85" width="28.95" height="4.4" fill="#d36878"/>
<rect x="126.32" y="580.06" width="58.68" height="4.4" fill="#d36878"/>
<rect x="185" y="559" width="39" height="6" fill="rgba(22,10,14,0.82)"/>
<rect x="185" y="529" width="16.6" height="4.4" fill="#d36878"/>
<rect x="185" y="587.9" width="58.6" height="4.4" fill="#d36878"/>
<path d="M327.63 378.32 L327.11 378.32C326.97 380.95 326.75 388.84 326.32 394.11C325.88 399.37 325.44 404.63 324.47 409.89C323.51 415.16 322.15 420.64 320.53 425.68C318.9 430.73 316.84 435.55 314.74 440.16C312.63 444.76 310 449.15 307.89 453.32C305.79 457.48 303.6 461.65 302.11 465.16C300.61 468.67 299.61 471.52 298.95 474.37C298.29 477.22 297.98 479.63 298.16 482.26C298.33 484.89 298.99 487.31 300 490.16C301.01 493.01 302.76 496.3 304.21 499.37C305.66 502.44 307.63 505.73 308.68 508.58C309.74 511.43 310.53 513.84 310.53 516.47C310.53 519.11 309.87 521.52 308.68 524.37C307.5 527.22 305.61 530.51 303.42 533.58C301.23 536.65 298.16 539.94 295.53 542.79C292.89 545.64 290.04 548.05 287.63 550.68C285.22 553.32 283.25 555.95 281.05 558.58C278.86 561.21 276.23 564.06 274.47 566.47C272.72 568.89 271.4 571.08 270.53 573.05C269.65 575.03 269.12 576.56 269.21 578.32C269.3 580.07 269.74 581.69 271.05 583.58C272.37 585.46 274.34 587.53 277.11 589.63C279.87 591.74 283.9 593.93 287.63 596.21C291.36 598.49 295.53 600.82 299.47 603.32C303.42 605.82 307.81 608.58 311.32 611.21C314.82 613.84 318.2 616.78 320.53 619.11C322.85 621.43 324.25 623.71 325.26 625.16C326.27 626.61 326.36 627.35 326.58 627.79L327.63 627.79 Z" fill="#f1c9c0"/><path d="M327.11 378.32C326.97 380.95 326.75 388.84 326.32 394.11C325.88 399.37 325.44 404.63 324.47 409.89C323.51 415.16 322.15 420.64 320.53 425.68C318.9 430.73 316.84 435.55 314.74 440.16C312.63 444.76 310 449.15 307.89 453.32C305.79 457.48 303.6 461.65 302.11 465.16C300.61 468.67 299.61 471.52 298.95 474.37C298.29 477.22 297.98 479.63 298.16 482.26C298.33 484.89 298.99 487.31 300 490.16C301.01 493.01 302.76 496.3 304.21 499.37C305.66 502.44 307.63 505.73 308.68 508.58C309.74 511.43 310.53 513.84 310.53 516.47C310.53 519.11 309.87 521.52 308.68 524.37C307.5 527.22 305.61 530.51 303.42 533.58C301.23 536.65 298.16 539.94 295.53 542.79C292.89 545.64 290.04 548.05 287.63 550.68C285.22 553.32 283.25 555.95 281.05 558.58C278.86 561.21 276.23 564.06 274.47 566.47C272.72 568.89 271.4 571.08 270.53 573.05C269.65 575.03 269.12 576.56 269.21 578.32C269.3 580.07 269.74 581.69 271.05 583.58C272.37 585.46 274.34 587.53 277.11 589.63C279.87 591.74 283.9 593.93 287.63 596.21C291.36 598.49 295.53 600.82 299.47 603.32C303.42 605.82 307.81 608.58 311.32 611.21C314.82 613.84 318.2 616.78 320.53 619.11C322.85 621.43 324.25 623.71 325.26 625.16C326.27 626.61 326.36 627.35 326.58 627.79" fill="none" stroke="#1e1e1e" stroke-width="2.0" stroke-linejoin="round"/>
<path d="M327.63 440 L328.03 440C328.43 441.83 329.58 447 330.43 451C331.28 455 332.13 459.7 333.13 464C334.13 468.3 335.05 472.97 336.43 476.8C337.81 480.63 339.51 483.92 341.43 487C343.35 490.08 346.18 492.85 347.93 495.3C349.68 497.75 351.31 499.72 351.93 501.7C352.55 503.68 352.25 505.2 351.63 507.2C351.01 509.2 349.71 511.4 348.23 513.7C346.75 516 344.16 518.85 342.73 521C341.3 523.15 339.75 524.75 339.63 526.6C339.51 528.45 340.6 530.27 342.03 532.1C343.46 533.93 345.86 535.45 348.23 537.6C350.6 539.75 353.83 542.85 356.23 545C358.63 547.15 361.01 548.67 362.63 550.5C364.25 552.33 365.26 554.15 365.93 556C366.6 557.85 366.63 559.75 366.63 561.6C366.63 563.45 365.51 565.27 365.93 567.1C366.35 568.93 367.53 570.6 369.13 572.6C370.73 574.6 373.3 577.1 375.53 579.1C377.76 581.1 380.75 582.92 382.53 584.6C384.31 586.28 385.86 587.67 386.23 589.2C386.6 590.73 386.21 592.27 384.73 593.8C383.25 595.33 380.4 596.77 377.33 598.4C374.26 600.03 370.31 601.82 366.33 603.6C362.35 605.38 357.73 607.35 353.43 609.1C349.13 610.85 344.06 612.57 340.53 614.1C337 615.63 334.13 617.23 332.23 618.3C330.33 619.37 329.65 620.13 329.13 620.5L327.63 620.5 Z" fill="#6873ba"/><path d="M328.03 440C328.43 441.83 329.58 447 330.43 451C331.28 455 332.13 459.7 333.13 464C334.13 468.3 335.05 472.97 336.43 476.8C337.81 480.63 339.51 483.92 341.43 487C343.35 490.08 346.18 492.85 347.93 495.3C349.68 497.75 351.31 499.72 351.93 501.7C352.55 503.68 352.25 505.2 351.63 507.2C351.01 509.2 349.71 511.4 348.23 513.7C346.75 516 344.16 518.85 342.73 521C341.3 523.15 339.75 524.75 339.63 526.6C339.51 528.45 340.6 530.27 342.03 532.1C343.46 533.93 345.86 535.45 348.23 537.6C350.6 539.75 353.83 542.85 356.23 545C358.63 547.15 361.01 548.67 362.63 550.5C364.25 552.33 365.26 554.15 365.93 556C366.6 557.85 366.63 559.75 366.63 561.6C366.63 563.45 365.51 565.27 365.93 567.1C366.35 568.93 367.53 570.6 369.13 572.6C370.73 574.6 373.3 577.1 375.53 579.1C377.76 581.1 380.75 582.92 382.53 584.6C384.31 586.28 385.86 587.67 386.23 589.2C386.6 590.73 386.21 592.27 384.73 593.8C383.25 595.33 380.4 596.77 377.33 598.4C374.26 600.03 370.31 601.82 366.33 603.6C362.35 605.38 357.73 607.35 353.43 609.1C349.13 610.85 344.06 612.57 340.53 614.1C337 615.63 334.13 617.23 332.23 618.3C330.33 619.37 329.65 620.13 329.13 620.5L327.63 620.5" fill="none" stroke="#1e1e1e" stroke-width="2.0" stroke-linejoin="round"/>
<rect x="285.79" y="549.79" width="41.84" height="6" fill="rgba(22,10,14,0.82)"/>
<rect x="298.16" y="483.48" width="29.47" height="4.4" fill="#d36878"/>
<rect x="269.21" y="575.59" width="58.42" height="4.4" fill="#d36878"/>
<rect x="327.63" y="559" width="39" height="6" fill="rgba(22,10,14,0.82)"/>
<rect x="327.63" y="529" width="16.6" height="4.4" fill="#d36878"/>
<rect x="327.63" y="587.9" width="58.6" height="4.4" fill="#d36878"/>
</g>
<line x1="185" y1="352.95" x2="185" y2="649.4" stroke="#03095c" stroke-width="2.6"/>
<line x1="327.63" y1="352.95" x2="327.63" y2="649.4" stroke="#03095c" stroke-width="2.6"/>
<line x1="112.9" y1="354.15" x2="399.9" y2="354.15" stroke="rgba(10,10,10,0.72)" stroke-width="1.9" stroke-linecap="square"/>
<line x1="112.9" y1="648.9" x2="399.9" y2="648.9" stroke="rgba(10,10,10,0.72)" stroke-width="1.9" stroke-linecap="square"/>
<line x1="112.9" y1="354.15" x2="112.9" y2="648.9" stroke="rgba(10,10,10,0.72)" stroke-width="1.9" stroke-linecap="square"/>
<line x1="399.9" y1="354.15" x2="399.9" y2="648.9" stroke="rgba(10,10,10,0.72)" stroke-width="1.9" stroke-linecap="square"/>
<line x1="106.7" y1="383.62" x2="112.9" y2="383.62" stroke="rgba(10,10,10,0.72)" stroke-width="1.9"/>
<text x="102.4" y="393.32" font-size="27.3" text-anchor="end">400</text>
<line x1="106.7" y1="442.57" x2="112.9" y2="442.57" stroke="rgba(10,10,10,0.72)" stroke-width="1.9"/>
<text x="102.4" y="452.27" font-size="27.3" text-anchor="end">200</text>
<line x1="106.7" y1="501.52" x2="112.9" y2="501.52" stroke="rgba(10,10,10,0.72)" stroke-width="1.9"/>
<text x="102.4" y="511.22" font-size="27.3" text-anchor="end">0</text>
<line x1="106.7" y1="560.48" x2="112.9" y2="560.48" stroke="rgba(10,10,10,0.72)" stroke-width="1.9"/>
<text x="102.4" y="570.18" font-size="27.3" text-anchor="end">−200</text>
<line x1="106.7" y1="619.42" x2="112.9" y2="619.42" stroke="rgba(10,10,10,0.72)" stroke-width="1.9"/>
<text x="102.4" y="629.12" font-size="27.3" text-anchor="end">−400</text>
<line x1="185" y1="648.9" x2="185" y2="654.9" stroke="#26262c" stroke-width="1.5"/>
<text x="184.8" y="680.4" font-size="27.3" text-anchor="middle">LSTM</text>
<line x1="327.63" y1="648.9" x2="327.63" y2="654.9" stroke="#26262c" stroke-width="1.5"/>
<text x="327.43" y="680.4" font-size="27.3" text-anchor="middle">Transformer</text>
<g clip-path="url(#c11)">
<path d="M484.47 374.37 L483.95 374.37C483.68 375.9 483.38 380.73 482.37 383.58C481.36 386.43 479.78 388.84 477.89 391.47C476.01 394.11 473.38 396.96 471.05 399.37C468.73 401.78 465.88 403.54 463.95 405.95C462.02 408.36 460.44 411.34 459.47 413.84C458.51 416.34 458.16 418.32 458.16 420.95C458.16 423.58 458.64 426.65 459.47 429.63C460.31 432.61 461.84 435.77 463.16 438.84C464.47 441.91 466.49 445.2 467.37 448.05C468.25 450.9 468.68 453.32 468.42 455.95C468.16 458.58 467.41 461.21 465.79 463.84C464.17 466.47 461.4 469.32 458.68 471.74C455.96 474.15 452.76 476.12 449.47 478.32C446.18 480.51 442.11 482.92 438.95 484.89C435.79 486.87 432.72 488.4 430.53 490.16C428.33 491.91 426.67 493.89 425.79 495.42C424.91 496.96 424.82 497.92 425.26 499.37C425.7 500.82 426.8 502.35 428.42 504.11C430.04 505.86 432.59 507.83 435 509.89C437.41 511.96 440.26 514.06 442.89 516.47C445.53 518.89 447.94 521.52 450.79 524.37C453.64 527.22 457.15 530.51 460 533.58C462.85 536.65 465.7 539.72 467.89 542.79C470.09 545.86 472.06 549.15 473.16 552C474.25 554.85 474.47 557.26 474.47 559.89C474.47 562.53 473.6 565.16 473.16 567.79C472.72 570.42 471.93 572.83 471.84 575.68C471.75 578.54 472.06 581.61 472.63 584.89C473.2 588.18 474.21 591.91 475.26 595.42C476.32 598.93 477.76 602.44 478.95 605.95C480.13 609.46 481.54 613.4 482.37 616.47C483.2 619.54 483.68 623.05 483.95 624.37L484.47 624.37 Z" fill="#f1c9c0"/><path d="M483.95 374.37C483.68 375.9 483.38 380.73 482.37 383.58C481.36 386.43 479.78 388.84 477.89 391.47C476.01 394.11 473.38 396.96 471.05 399.37C468.73 401.78 465.88 403.54 463.95 405.95C462.02 408.36 460.44 411.34 459.47 413.84C458.51 416.34 458.16 418.32 458.16 420.95C458.16 423.58 458.64 426.65 459.47 429.63C460.31 432.61 461.84 435.77 463.16 438.84C464.47 441.91 466.49 445.2 467.37 448.05C468.25 450.9 468.68 453.32 468.42 455.95C468.16 458.58 467.41 461.21 465.79 463.84C464.17 466.47 461.4 469.32 458.68 471.74C455.96 474.15 452.76 476.12 449.47 478.32C446.18 480.51 442.11 482.92 438.95 484.89C435.79 486.87 432.72 488.4 430.53 490.16C428.33 491.91 426.67 493.89 425.79 495.42C424.91 496.96 424.82 497.92 425.26 499.37C425.7 500.82 426.8 502.35 428.42 504.11C430.04 505.86 432.59 507.83 435 509.89C437.41 511.96 440.26 514.06 442.89 516.47C445.53 518.89 447.94 521.52 450.79 524.37C453.64 527.22 457.15 530.51 460 533.58C462.85 536.65 465.7 539.72 467.89 542.79C470.09 545.86 472.06 549.15 473.16 552C474.25 554.85 474.47 557.26 474.47 559.89C474.47 562.53 473.6 565.16 473.16 567.79C472.72 570.42 471.93 572.83 471.84 575.68C471.75 578.54 472.06 581.61 472.63 584.89C473.2 588.18 474.21 591.91 475.26 595.42C476.32 598.93 477.76 602.44 478.95 605.95C480.13 609.46 481.54 613.4 482.37 616.47C483.2 619.54 483.68 623.05 483.95 624.37" fill="none" stroke="#1e1e1e" stroke-width="2.0" stroke-linejoin="round"/>
<path d="M484.47 377 L485.53 377C486.01 378.54 487.19 383.14 488.42 386.21C489.65 389.28 491.4 392.57 492.89 395.42C494.39 398.27 496.27 400.68 497.37 403.32C498.46 405.95 499.21 408.58 499.47 411.21C499.74 413.84 499.39 416.47 498.95 419.11C498.51 421.74 497.11 424.37 496.84 427C496.58 429.63 496.71 432.04 497.37 434.89C498.03 437.75 499.47 440.82 500.79 444.11C502.11 447.39 503.73 451.34 505.26 454.63C506.8 457.92 508.55 460.99 510 463.84C511.45 466.69 512.19 468.89 513.95 471.74C515.7 474.59 517.89 478.1 520.53 480.95C523.16 483.8 526.67 486.43 529.74 488.84C532.81 491.25 536.62 493.67 538.95 495.42C541.27 497.18 542.89 498.05 543.68 499.37C544.47 500.68 544.47 501.91 543.68 503.32C542.89 504.72 541.27 506.17 538.95 507.79C536.62 509.41 533.03 510.95 529.74 513.05C526.45 515.16 522.5 517.79 519.21 520.42C515.92 523.05 512.5 525.99 510 528.84C507.5 531.69 505.96 534.32 504.21 537.53C502.46 540.73 500.92 544.32 499.47 548.05C498.03 551.78 496.49 556.17 495.53 559.89C494.56 563.62 493.82 567.13 493.68 570.42C493.55 573.71 494.3 576.78 494.74 579.63C495.18 582.48 496.32 584.68 496.32 587.53C496.32 590.38 495.61 593.45 494.74 596.74C493.86 600.03 492.24 603.97 491.05 607.26C489.87 610.55 488.51 613.62 487.63 616.47C486.75 619.32 486.1 623.05 485.79 624.37L484.47 624.37 Z" fill="#6873ba"/><path d="M485.53 377C486.01 378.54 487.19 383.14 488.42 386.21C489.65 389.28 491.4 392.57 492.89 395.42C494.39 398.27 496.27 400.68 497.37 403.32C498.46 405.95 499.21 408.58 499.47 411.21C499.74 413.84 499.39 416.47 498.95 419.11C498.51 421.74 497.11 424.37 496.84 427C496.58 429.63 496.71 432.04 497.37 434.89C498.03 437.75 499.47 440.82 500.79 444.11C502.11 447.39 503.73 451.34 505.26 454.63C506.8 457.92 508.55 460.99 510 463.84C511.45 466.69 512.19 468.89 513.95 471.74C515.7 474.59 517.89 478.1 520.53 480.95C523.16 483.8 526.67 486.43 529.74 488.84C532.81 491.25 536.62 493.67 538.95 495.42C541.27 497.18 542.89 498.05 543.68 499.37C544.47 500.68 544.47 501.91 543.68 503.32C542.89 504.72 541.27 506.17 538.95 507.79C536.62 509.41 533.03 510.95 529.74 513.05C526.45 515.16 522.5 517.79 519.21 520.42C515.92 523.05 512.5 525.99 510 528.84C507.5 531.69 505.96 534.32 504.21 537.53C502.46 540.73 500.92 544.32 499.47 548.05C498.03 551.78 496.49 556.17 495.53 559.89C494.56 563.62 493.82 567.13 493.68 570.42C493.55 573.71 494.3 576.78 494.74 579.63C495.18 582.48 496.32 584.68 496.32 587.53C496.32 590.38 495.61 593.45 494.74 596.74C493.86 600.03 492.24 603.97 491.05 607.26C489.87 610.55 488.51 613.62 487.63 616.47C486.75 619.32 486.1 623.05 485.79 624.37L484.47 624.37" fill="none" stroke="#1e1e1e" stroke-width="2.0" stroke-linejoin="round"/>
<rect x="425.26" y="494.26" width="59.21" height="6" fill="rgba(22,10,14,0.82)"/>
<rect x="467.37" y="455.06" width="17.11" height="4.4" fill="#d36878"/>
<rect x="435.53" y="510.85" width="48.95" height="4.4" fill="#d36878"/>
<rect x="484.47" y="498.47" width="59.21" height="6" fill="rgba(22,10,14,0.82)"/>
<rect x="484.47" y="468.75" width="28.16" height="4.4" fill="#d36878"/>
<rect x="484.47" y="510.85" width="46.05" height="4.4" fill="#d36878"/>
<path d="M627.63 350.68 L617.89 350.68C617.02 352.66 614.61 358.8 612.63 362.53C610.66 366.25 607.89 369.54 606.05 373.05C604.21 376.56 602.68 380.07 601.58 383.58C600.48 387.09 599.74 390.6 599.47 394.11C599.21 397.61 599.47 401.12 600 404.63C600.53 408.14 601.62 411.65 602.63 415.16C603.64 418.67 605.26 422.18 606.05 425.68C606.84 429.19 607.37 432.92 607.37 436.21C607.37 439.5 607.02 442.35 606.05 445.42C605.09 448.49 603.64 451.56 601.58 454.63C599.52 457.7 596.67 460.99 593.68 463.84C590.7 466.69 586.89 469.32 583.68 471.74C580.48 474.15 576.89 476.34 574.47 478.32C572.06 480.29 570.18 481.82 569.21 483.58C568.25 485.33 568.55 486.87 568.68 488.84C568.82 490.82 569.17 493.23 570 495.42C570.83 497.61 571.84 499.59 573.68 502C575.53 504.41 578.07 506.82 581.05 509.89C584.04 512.96 588.29 516.69 591.58 520.42C594.87 524.15 598.07 528.32 600.79 532.26C603.51 536.21 605.92 540.16 607.89 544.11C609.87 548.05 611.4 552 612.63 555.95C613.86 559.89 614.61 564.06 615.26 567.79C615.92 571.52 616.05 574.81 616.58 578.32C617.11 581.82 617.68 585.11 618.42 588.84C619.17 592.57 620.18 596.74 621.05 600.68C621.93 604.63 622.89 608.8 623.68 612.53C624.47 616.25 625.22 619.76 625.79 623.05C626.36 626.34 626.89 630.73 627.11 632.26L627.63 632.26 Z" fill="#f1c9c0"/><path d="M627.63 350.68 L617.89 350.68C617.02 352.66 614.61 358.8 612.63 362.53C610.66 366.25 607.89 369.54 606.05 373.05C604.21 376.56 602.68 380.07 601.58 383.58C600.48 387.09 599.74 390.6 599.47 394.11C599.21 397.61 599.47 401.12 600 404.63C600.53 408.14 601.62 411.65 602.63 415.16C603.64 418.67 605.26 422.18 606.05 425.68C606.84 429.19 607.37 432.92 607.37 436.21C607.37 439.5 607.02 442.35 606.05 445.42C605.09 448.49 603.64 451.56 601.58 454.63C599.52 457.7 596.67 460.99 593.68 463.84C590.7 466.69 586.89 469.32 583.68 471.74C580.48 474.15 576.89 476.34 574.47 478.32C572.06 480.29 570.18 481.82 569.21 483.58C568.25 485.33 568.55 486.87 568.68 488.84C568.82 490.82 569.17 493.23 570 495.42C570.83 497.61 571.84 499.59 573.68 502C575.53 504.41 578.07 506.82 581.05 509.89C584.04 512.96 588.29 516.69 591.58 520.42C594.87 524.15 598.07 528.32 600.79 532.26C603.51 536.21 605.92 540.16 607.89 544.11C609.87 548.05 611.4 552 612.63 555.95C613.86 559.89 614.61 564.06 615.26 567.79C615.92 571.52 616.05 574.81 616.58 578.32C617.11 581.82 617.68 585.11 618.42 588.84C619.17 592.57 620.18 596.74 621.05 600.68C621.93 604.63 622.89 608.8 623.68 612.53C624.47 616.25 625.22 619.76 625.79 623.05C626.36 626.34 626.89 630.73 627.11 632.26" fill="none" stroke="#1e1e1e" stroke-width="2.0" stroke-linejoin="round"/>
<path d="M627.63 377 L628.68 377C629.17 378.54 630.35 383.14 631.58 386.21C632.81 389.28 634.56 392.57 636.05 395.42C637.54 398.27 639.43 400.68 640.53 403.32C641.62 405.95 642.37 408.58 642.63 411.21C642.89 413.84 642.54 416.47 642.11 419.11C641.67 421.74 640.26 424.37 640 427C639.74 429.63 639.87 432.04 640.53 434.89C641.18 437.75 642.63 440.82 643.95 444.11C645.26 447.39 646.89 451.34 648.42 454.63C649.96 457.92 651.71 460.99 653.16 463.84C654.61 466.69 655.35 468.89 657.11 471.74C658.86 474.59 661.05 478.1 663.68 480.95C666.32 483.8 669.82 486.43 672.89 488.84C675.96 491.25 679.78 493.67 682.11 495.42C684.43 497.18 686.05 498.05 686.84 499.37C687.63 500.68 687.63 501.91 686.84 503.32C686.05 504.72 684.43 506.17 682.11 507.79C679.78 509.41 676.18 510.95 672.89 513.05C669.61 515.16 665.66 517.79 662.37 520.42C659.08 523.05 655.66 525.99 653.16 528.84C650.66 531.69 649.12 534.32 647.37 537.53C645.61 540.73 644.08 544.32 642.63 548.05C641.18 551.78 639.65 556.17 638.68 559.89C637.72 563.62 636.97 567.13 636.84 570.42C636.71 573.71 637.46 576.78 637.89 579.63C638.33 582.48 639.47 584.68 639.47 587.53C639.47 590.38 638.77 593.45 637.89 596.74C637.02 600.03 635.39 603.97 634.21 607.26C633.03 610.55 631.67 613.62 630.79 616.47C629.91 619.32 629.25 623.05 628.95 624.37L627.63 624.37 Z" fill="#6873ba"/><path d="M628.68 377C629.17 378.54 630.35 383.14 631.58 386.21C632.81 389.28 634.56 392.57 636.05 395.42C637.54 398.27 639.43 400.68 640.53 403.32C641.62 405.95 642.37 408.58 642.63 411.21C642.89 413.84 642.54 416.47 642.11 419.11C641.67 421.74 640.26 424.37 640 427C639.74 429.63 639.87 432.04 640.53 434.89C641.18 437.75 642.63 440.82 643.95 444.11C645.26 447.39 646.89 451.34 648.42 454.63C649.96 457.92 651.71 460.99 653.16 463.84C654.61 466.69 655.35 468.89 657.11 471.74C658.86 474.59 661.05 478.1 663.68 480.95C666.32 483.8 669.82 486.43 672.89 488.84C675.96 491.25 679.78 493.67 682.11 495.42C684.43 497.18 686.05 498.05 686.84 499.37C687.63 500.68 687.63 501.91 686.84 503.32C686.05 504.72 684.43 506.17 682.11 507.79C679.78 509.41 676.18 510.95 672.89 513.05C669.61 515.16 665.66 517.79 662.37 520.42C659.08 523.05 655.66 525.99 653.16 528.84C650.66 531.69 649.12 534.32 647.37 537.53C645.61 540.73 644.08 544.32 642.63 548.05C641.18 551.78 639.65 556.17 638.68 559.89C637.72 563.62 636.97 567.13 636.84 570.42C636.71 573.71 637.46 576.78 637.89 579.63C638.33 582.48 639.47 584.68 639.47 587.53C639.47 590.38 638.77 593.45 637.89 596.74C637.02 600.03 635.39 603.97 634.21 607.26C633.03 610.55 631.67 613.62 630.79 616.47C629.91 619.32 629.25 623.05 628.95 624.37L627.63 624.37" fill="none" stroke="#1e1e1e" stroke-width="2.0" stroke-linejoin="round"/>
<rect x="569.21" y="482.68" width="58.42" height="6" fill="rgba(22,10,14,0.82)"/>
<rect x="603.42" y="418.75" width="24.21" height="4.4" fill="#d36878"/>
<rect x="572.63" y="499.8" width="55" height="4.4" fill="#d36878"/>
<rect x="627.63" y="498.47" width="59.21" height="6" fill="rgba(22,10,14,0.82)"/>
<rect x="627.63" y="468.75" width="28.16" height="4.4" fill="#d36878"/>
<rect x="627.63" y="510.85" width="46.05" height="4.4" fill="#d36878"/>
</g>
<line x1="484.47" y1="352.95" x2="484.47" y2="649.4" stroke="#03095c" stroke-width="2.6"/>
<line x1="627.63" y1="352.95" x2="627.63" y2="649.4" stroke="#03095c" stroke-width="2.6"/>
<line x1="413" y1="354.15" x2="699.9" y2="354.15" stroke="rgba(10,10,10,0.72)" stroke-width="1.9" stroke-linecap="square"/>
<line x1="413" y1="648.9" x2="699.9" y2="648.9" stroke="rgba(10,10,10,0.72)" stroke-width="1.9" stroke-linecap="square"/>
<line x1="413" y1="354.15" x2="413" y2="648.9" stroke="rgba(10,10,10,0.72)" stroke-width="1.9" stroke-linecap="square"/>
<line x1="699.9" y1="354.15" x2="699.9" y2="648.9" stroke="rgba(10,10,10,0.72)" stroke-width="1.9" stroke-linecap="square"/>
<line x1="406.8" y1="383.62" x2="413" y2="383.62" stroke="rgba(10,10,10,0.72)" stroke-width="1.9"/>
<line x1="406.8" y1="442.57" x2="413" y2="442.57" stroke="rgba(10,10,10,0.72)" stroke-width="1.9"/>
<line x1="406.8" y1="501.52" x2="413" y2="501.52" stroke="rgba(10,10,10,0.72)" stroke-width="1.9"/>
<line x1="406.8" y1="560.48" x2="413" y2="560.48" stroke="rgba(10,10,10,0.72)" stroke-width="1.9"/>
<line x1="406.8" y1="619.42" x2="413" y2="619.42" stroke="rgba(10,10,10,0.72)" stroke-width="1.9"/>
<line x1="484.47" y1="648.9" x2="484.47" y2="654.9" stroke="#26262c" stroke-width="1.5"/>
<text x="484.27" y="680.4" font-size="27.3" text-anchor="middle">LSTM</text>
<line x1="627.63" y1="648.9" x2="627.63" y2="654.9" stroke="#26262c" stroke-width="1.5"/>
<text x="627.43" y="680.4" font-size="27.3" text-anchor="middle">Transformer</text>
<g clip-path="url(#c12)">
<path d="M781.79 350.68 L779.95 350.68C779.95 355.29 780.01 371.52 779.95 378.32C779.88 385.11 780.12 387.53 779.55 391.47C778.98 395.42 778.04 398.71 776.53 402C775.01 405.29 772.93 408.14 770.47 411.21C768.02 414.28 764.42 417.35 761.79 420.42C759.16 423.49 756.44 426.56 754.68 429.63C752.93 432.7 751.83 435.99 751.26 438.84C750.69 441.69 750.69 444.32 751.26 446.74C751.83 449.15 753.02 450.9 754.68 453.32C756.35 455.73 759.2 458.58 761.26 461.21C763.32 463.84 765.74 466.69 767.05 469.11C768.37 471.52 769.16 473.36 769.16 475.68C769.16 478.01 768.59 480.51 767.05 483.05C765.52 485.6 762.89 488.45 759.95 490.95C757.01 493.45 753.15 495.77 749.42 498.05C745.69 500.33 741.09 502.53 737.58 504.63C734.07 506.74 730.65 508.71 728.37 510.68C726.09 512.66 724.77 514.63 723.89 516.47C723.02 518.32 722.8 519.85 723.11 521.74C723.41 523.62 723.98 525.6 725.74 527.79C727.49 529.98 730.34 532.39 733.63 534.89C736.92 537.39 741.31 540.16 745.47 542.79C749.64 545.42 754.46 548.05 758.63 550.68C762.8 553.32 767.4 555.95 770.47 558.58C773.54 561.21 775.52 563.62 777.05 566.47C778.59 569.32 779.25 574.15 779.68 575.68L781.79 575.68 Z" fill="#f1c9c0"/><path d="M781.79 350.68 L779.95 350.68C779.95 355.29 780.01 371.52 779.95 378.32C779.88 385.11 780.12 387.53 779.55 391.47C778.98 395.42 778.04 398.71 776.53 402C775.01 405.29 772.93 408.14 770.47 411.21C768.02 414.28 764.42 417.35 761.79 420.42C759.16 423.49 756.44 426.56 754.68 429.63C752.93 432.7 751.83 435.99 751.26 438.84C750.69 441.69 750.69 444.32 751.26 446.74C751.83 449.15 753.02 450.9 754.68 453.32C756.35 455.73 759.2 458.58 761.26 461.21C763.32 463.84 765.74 466.69 767.05 469.11C768.37 471.52 769.16 473.36 769.16 475.68C769.16 478.01 768.59 480.51 767.05 483.05C765.52 485.6 762.89 488.45 759.95 490.95C757.01 493.45 753.15 495.77 749.42 498.05C745.69 500.33 741.09 502.53 737.58 504.63C734.07 506.74 730.65 508.71 728.37 510.68C726.09 512.66 724.77 514.63 723.89 516.47C723.02 518.32 722.8 519.85 723.11 521.74C723.41 523.62 723.98 525.6 725.74 527.79C727.49 529.98 730.34 532.39 733.63 534.89C736.92 537.39 741.31 540.16 745.47 542.79C749.64 545.42 754.46 548.05 758.63 550.68C762.8 553.32 767.4 555.95 770.47 558.58C773.54 561.21 775.52 563.62 777.05 566.47C778.59 569.32 779.25 574.15 779.68 575.68L781.79 575.68" fill="none" stroke="#1e1e1e" stroke-width="2.0" stroke-linejoin="round"/>
<path d="M781.79 398.05 L782.84 398.05C783.28 399.59 784.25 404.19 785.47 407.26C786.7 410.33 788.63 413.4 790.21 416.47C791.79 419.54 793.72 422.61 794.95 425.68C796.18 428.75 797.14 431.82 797.58 434.89C798.02 437.96 797.84 441.04 797.58 444.11C797.32 447.18 796.35 450.25 796 453.32C795.65 456.39 795.12 459.46 795.47 462.53C795.82 465.6 796.7 468.67 798.11 471.74C799.51 474.81 801.48 477.88 803.89 480.95C806.31 484.02 809.38 487.09 812.58 490.16C815.78 493.23 819.9 496.52 823.11 499.37C826.31 502.22 829.6 504.63 831.79 507.26C833.98 509.89 835.43 512.75 836.26 515.16C837.1 517.57 837.1 519.63 836.79 521.74C836.48 523.84 836.04 525.6 834.42 527.79C832.8 529.98 830.25 532.53 827.05 534.89C823.85 537.26 819.38 539.59 815.21 542C811.04 544.41 806 546.91 802.05 549.37C798.11 551.82 794.38 554.32 791.53 556.74C788.68 559.15 786.39 561.56 784.95 563.84C783.5 566.12 783.19 569.32 782.84 570.42L781.79 570.42 Z" fill="#6873ba"/><path d="M782.84 398.05C783.28 399.59 784.25 404.19 785.47 407.26C786.7 410.33 788.63 413.4 790.21 416.47C791.79 419.54 793.72 422.61 794.95 425.68C796.18 428.75 797.14 431.82 797.58 434.89C798.02 437.96 797.84 441.04 797.58 444.11C797.32 447.18 796.35 450.25 796 453.32C795.65 456.39 795.12 459.46 795.47 462.53C795.82 465.6 796.7 468.67 798.11 471.74C799.51 474.81 801.48 477.88 803.89 480.95C806.31 484.02 809.38 487.09 812.58 490.16C815.78 493.23 819.9 496.52 823.11 499.37C826.31 502.22 829.6 504.63 831.79 507.26C833.98 509.89 835.43 512.75 836.26 515.16C837.1 517.57 837.1 519.63 836.79 521.74C836.48 523.84 836.04 525.6 834.42 527.79C832.8 529.98 830.25 532.53 827.05 534.89C823.85 537.26 819.38 539.59 815.21 542C811.04 544.41 806 546.91 802.05 549.37C798.11 551.82 794.38 554.32 791.53 556.74C788.68 559.15 786.39 561.56 784.95 563.84C783.5 566.12 783.19 569.32 782.84 570.42" fill="none" stroke="#1e1e1e" stroke-width="2.0" stroke-linejoin="round"/>
<rect x="730.21" y="504.26" width="51.58" height="6" fill="rgba(22,10,14,0.82)"/>
<rect x="752.58" y="450.33" width="29.21" height="4.4" fill="#d36878"/>
<rect x="723.63" y="522.17" width="58.16" height="4.4" fill="#d36878"/>
<rect x="781.79" y="505.58" width="53.16" height="6" fill="rgba(22,10,14,0.82)"/>
<rect x="781.79" y="478.22" width="23.68" height="4.4" fill="#d36878"/>
<rect x="781.79" y="524.27" width="55" height="4.4" fill="#d36878"/>
<path d="M923.89 350.68 L920.21 350.68C919.82 353.1 918.89 360.99 917.84 365.16C916.79 369.32 915.65 371.96 913.89 375.68C912.14 379.41 909.6 383.58 907.32 387.53C905.04 391.47 902.1 395.64 900.21 399.37C898.32 403.1 896.88 406.61 896 409.89C895.12 413.18 894.82 416.04 894.95 419.11C895.08 422.18 895.74 425.03 896.79 428.32C897.84 431.61 899.73 435.33 901.26 438.84C902.8 442.35 904.86 446.08 906 449.37C907.14 452.66 908.02 455.51 908.11 458.58C908.19 461.65 907.75 464.72 906.53 467.79C905.3 470.86 903.24 474.02 900.74 477C898.24 479.98 894.82 483.05 891.53 485.68C888.24 488.32 884.2 490.29 881 492.79C877.8 495.29 874.64 498.05 872.32 500.68C869.99 503.32 868.24 506.17 867.05 508.58C865.87 510.99 865.21 512.96 865.21 515.16C865.21 517.35 865.74 519.46 867.05 521.74C868.37 524.02 870.34 526.34 873.11 528.84C875.87 531.34 879.9 534.11 883.63 536.74C887.36 539.37 891.53 541.87 895.47 544.63C899.42 547.39 903.81 550.33 907.32 553.32C910.82 556.3 914.2 559.24 916.53 562.53C918.85 565.82 920.21 569.76 921.26 573.05C922.32 576.34 922.58 580.73 922.84 582.26L923.89 582.26 Z" fill="#f1c9c0"/><path d="M923.89 350.68 L920.21 350.68C919.82 353.1 918.89 360.99 917.84 365.16C916.79 369.32 915.65 371.96 913.89 375.68C912.14 379.41 909.6 383.58 907.32 387.53C905.04 391.47 902.1 395.64 900.21 399.37C898.32 403.1 896.88 406.61 896 409.89C895.12 413.18 894.82 416.04 894.95 419.11C895.08 422.18 895.74 425.03 896.79 428.32C897.84 431.61 899.73 435.33 901.26 438.84C902.8 442.35 904.86 446.08 906 449.37C907.14 452.66 908.02 455.51 908.11 458.58C908.19 461.65 907.75 464.72 906.53 467.79C905.3 470.86 903.24 474.02 900.74 477C898.24 479.98 894.82 483.05 891.53 485.68C888.24 488.32 884.2 490.29 881 492.79C877.8 495.29 874.64 498.05 872.32 500.68C869.99 503.32 868.24 506.17 867.05 508.58C865.87 510.99 865.21 512.96 865.21 515.16C865.21 517.35 865.74 519.46 867.05 521.74C868.37 524.02 870.34 526.34 873.11 528.84C875.87 531.34 879.9 534.11 883.63 536.74C887.36 539.37 891.53 541.87 895.47 544.63C899.42 547.39 903.81 550.33 907.32 553.32C910.82 556.3 914.2 559.24 916.53 562.53C918.85 565.82 920.21 569.76 921.26 573.05C922.32 576.34 922.58 580.73 922.84 582.26" fill="none" stroke="#1e1e1e" stroke-width="2.0" stroke-linejoin="round"/>
<path d="M923.89 398.05 L924.98 398.05C925.44 399.59 926.44 404.19 927.71 407.26C928.98 410.33 930.98 413.4 932.61 416.47C934.24 419.54 936.24 422.61 937.51 425.68C938.78 428.75 939.78 431.82 940.24 434.89C940.69 437.96 940.51 441.04 940.24 444.11C939.96 447.18 938.97 450.25 938.6 453.32C938.24 456.39 937.69 459.46 938.06 462.53C938.42 465.6 939.33 468.67 940.78 471.74C942.23 474.81 944.28 477.88 946.77 480.95C949.27 484.02 952.45 487.09 955.76 490.16C959.08 493.23 963.34 496.52 966.66 499.37C969.97 502.22 973.37 504.63 975.64 507.26C977.91 509.89 979.41 512.75 980.28 515.16C981.14 517.57 981.14 519.63 980.82 521.74C980.5 523.84 980.05 525.6 978.37 527.79C976.69 529.98 974.06 532.53 970.74 534.89C967.43 537.26 962.8 539.59 958.49 542C954.17 544.41 948.95 546.91 944.87 549.37C940.78 551.82 936.92 554.32 933.97 556.74C931.02 559.15 928.66 561.56 927.16 563.84C925.67 566.12 925.35 569.32 924.98 570.42L923.89 570.42 Z" fill="#6873ba"/><path d="M924.98 398.05C925.44 399.59 926.44 404.19 927.71 407.26C928.98 410.33 930.98 413.4 932.61 416.47C934.24 419.54 936.24 422.61 937.51 425.68C938.78 428.75 939.78 431.82 940.24 434.89C940.69 437.96 940.51 441.04 940.24 444.11C939.96 447.18 938.97 450.25 938.6 453.32C938.24 456.39 937.69 459.46 938.06 462.53C938.42 465.6 939.33 468.67 940.78 471.74C942.23 474.81 944.28 477.88 946.77 480.95C949.27 484.02 952.45 487.09 955.76 490.16C959.08 493.23 963.34 496.52 966.66 499.37C969.97 502.22 973.37 504.63 975.64 507.26C977.91 509.89 979.41 512.75 980.28 515.16C981.14 517.57 981.14 519.63 980.82 521.74C980.5 523.84 980.05 525.6 978.37 527.79C976.69 529.98 974.06 532.53 970.74 534.89C967.43 537.26 962.8 539.59 958.49 542C954.17 544.41 948.95 546.91 944.87 549.37C940.78 551.82 936.92 554.32 933.97 556.74C931.02 559.15 928.66 561.56 927.16 563.84C925.67 566.12 925.35 569.32 924.98 570.42" fill="none" stroke="#1e1e1e" stroke-width="2.0" stroke-linejoin="round"/>
<rect x="876.53" y="491.11" width="47.37" height="6" fill="rgba(22,10,14,0.82)"/>
<rect x="896" y="424.8" width="27.89" height="4.4" fill="#d36878"/>
<rect x="865.21" y="513.48" width="58.68" height="4.4" fill="#d36878"/>
<rect x="923.89" y="505.58" width="55.02" height="6" fill="rgba(22,10,14,0.82)"/>
<rect x="923.89" y="478.22" width="24.51" height="4.4" fill="#d36878"/>
<rect x="923.89" y="524.27" width="56.92" height="4.4" fill="#d36878"/>
</g>
<line x1="781.79" y1="352.95" x2="781.79" y2="649.4" stroke="#03095c" stroke-width="2.6"/>
<line x1="923.89" y1="352.95" x2="923.89" y2="649.4" stroke="#03095c" stroke-width="2.6"/>
<line x1="709.1" y1="354.15" x2="995.25" y2="354.15" stroke="rgba(10,10,10,0.72)" stroke-width="1.9" stroke-linecap="square"/>
<line x1="709.1" y1="648.9" x2="995.25" y2="648.9" stroke="rgba(10,10,10,0.72)" stroke-width="1.9" stroke-linecap="square"/>
<line x1="709.1" y1="354.15" x2="709.1" y2="648.9" stroke="rgba(10,10,10,0.72)" stroke-width="1.9" stroke-linecap="square"/>
<line x1="995.25" y1="354.15" x2="995.25" y2="648.9" stroke="rgba(10,10,10,0.72)" stroke-width="1.9" stroke-linecap="square"/>
<line x1="702.9" y1="383.62" x2="709.1" y2="383.62" stroke="rgba(10,10,10,0.72)" stroke-width="1.9"/>
<line x1="702.9" y1="442.57" x2="709.1" y2="442.57" stroke="rgba(10,10,10,0.72)" stroke-width="1.9"/>
<line x1="702.9" y1="501.52" x2="709.1" y2="501.52" stroke="rgba(10,10,10,0.72)" stroke-width="1.9"/>
<line x1="702.9" y1="560.48" x2="709.1" y2="560.48" stroke="rgba(10,10,10,0.72)" stroke-width="1.9"/>
<line x1="702.9" y1="619.42" x2="709.1" y2="619.42" stroke="rgba(10,10,10,0.72)" stroke-width="1.9"/>
<line x1="781.79" y1="648.9" x2="781.79" y2="654.9" stroke="#26262c" stroke-width="1.5"/>
<text x="781.59" y="680.4" font-size="27.3" text-anchor="middle">LSTM</text>
<line x1="923.89" y1="648.9" x2="923.89" y2="654.9" stroke="#26262c" stroke-width="1.5"/>
<text x="923.69" y="680.4" font-size="27.3" text-anchor="middle">Transformer</text>
<text transform="translate(32.4 501.72) rotate(-90)" font-size="30.6" text-anchor="middle">Error of I</text>
<g clip-path="url(#c20)">
<path d="M185 727.5 L183.1 727.5C183.1 736.25 183.09 761.25 183.1 780C183.11 798.75 183.25 829.17 183.15 840C183.05 850.83 183.11 842.92 182.5 845C181.89 847.08 180.96 850 179.5 852.5C178.04 855 175.96 857.58 173.75 860C171.54 862.42 168.54 864.71 166.25 867C163.96 869.29 161.67 871.38 160 873.75C158.33 876.12 156.96 878.96 156.25 881.25C155.54 883.54 155.46 885.29 155.75 887.5C156.04 889.71 156.79 892 158 894.5C159.21 897 161.33 899.92 163 902.5C164.67 905.08 166.92 907.71 168 910C169.08 912.29 169.67 914.17 169.5 916.25C169.33 918.33 168.79 920.42 167 922.5C165.21 924.58 162 926.75 158.75 928.75C155.5 930.75 151.25 932.62 147.5 934.5C143.75 936.38 139.25 938.25 136.25 940C133.25 941.75 131.04 943.33 129.5 945C127.96 946.67 127.33 948.33 127 950C126.67 951.67 126.79 953.12 127.5 955C128.21 956.88 129.38 959.17 131.25 961.25C133.12 963.33 136.04 965.42 138.75 967.5C141.46 969.58 144.58 971.67 147.5 973.75C150.42 975.83 154.79 978.96 156.25 980L185 980 Z" fill="#f1c9c0"/><path d="M185 727.5 L183.1 727.5C183.1 736.25 183.09 761.25 183.1 780C183.11 798.75 183.25 829.17 183.15 840C183.05 850.83 183.11 842.92 182.5 845C181.89 847.08 180.96 850 179.5 852.5C178.04 855 175.96 857.58 173.75 860C171.54 862.42 168.54 864.71 166.25 867C163.96 869.29 161.67 871.38 160 873.75C158.33 876.12 156.96 878.96 156.25 881.25C155.54 883.54 155.46 885.29 155.75 887.5C156.04 889.71 156.79 892 158 894.5C159.21 897 161.33 899.92 163 902.5C164.67 905.08 166.92 907.71 168 910C169.08 912.29 169.67 914.17 169.5 916.25C169.33 918.33 168.79 920.42 167 922.5C165.21 924.58 162 926.75 158.75 928.75C155.5 930.75 151.25 932.62 147.5 934.5C143.75 936.38 139.25 938.25 136.25 940C133.25 941.75 131.04 943.33 129.5 945C127.96 946.67 127.33 948.33 127 950C126.67 951.67 126.79 953.12 127.5 955C128.21 956.88 129.38 959.17 131.25 961.25C133.12 963.33 136.04 965.42 138.75 967.5C141.46 969.58 144.58 971.67 147.5 973.75C150.42 975.83 154.79 978.96 156.25 980L185 980" fill="none" stroke="#1e1e1e" stroke-width="2.0" stroke-linejoin="round"/>
<path d="M185 791.25 L185.25 791.25C185.42 792.92 185.58 798.46 186.25 801.25C186.92 804.04 187.58 805.71 189.25 808C190.92 810.29 193.42 812.79 196.25 815C199.08 817.21 202.92 819.17 206.25 821.25C209.58 823.33 213.33 825.42 216.25 827.5C219.17 829.58 221.79 831.67 223.75 833.75C225.71 835.83 227.29 838.12 228 840C228.71 841.88 228.5 843.25 228 845C227.5 846.75 225.83 848.83 225 850.5C224.17 852.17 222.92 853.33 223 855C223.08 856.67 223.92 858.62 225.5 860.5C227.08 862.38 230.17 864.33 232.5 866.25C234.83 868.17 237.83 870.12 239.5 872C241.17 873.88 242.21 875.83 242.5 877.5C242.79 879.17 242.29 880.42 241.25 882C240.21 883.58 238.75 885.25 236.25 887C233.75 888.75 230 890.54 226.25 892.5C222.5 894.46 217.71 896.67 213.75 898.75C209.79 900.83 205.62 902.71 202.5 905C199.38 907.29 197.08 910 195 912.5C192.92 915 191.33 917.5 190 920C188.67 922.5 187.71 925.42 187 927.5C186.29 929.58 185.96 931.67 185.75 932.5L185 932.5 Z" fill="#6873ba"/><path d="M185.25 791.25C185.42 792.92 185.58 798.46 186.25 801.25C186.92 804.04 187.58 805.71 189.25 808C190.92 810.29 193.42 812.79 196.25 815C199.08 817.21 202.92 819.17 206.25 821.25C209.58 823.33 213.33 825.42 216.25 827.5C219.17 829.58 221.79 831.67 223.75 833.75C225.71 835.83 227.29 838.12 228 840C228.71 841.88 228.5 843.25 228 845C227.5 846.75 225.83 848.83 225 850.5C224.17 852.17 222.92 853.33 223 855C223.08 856.67 223.92 858.62 225.5 860.5C227.08 862.38 230.17 864.33 232.5 866.25C234.83 868.17 237.83 870.12 239.5 872C241.17 873.88 242.21 875.83 242.5 877.5C242.79 879.17 242.29 880.42 241.25 882C240.21 883.58 238.75 885.25 236.25 887C233.75 888.75 230 890.54 226.25 892.5C222.5 894.46 217.71 896.67 213.75 898.75C209.79 900.83 205.62 902.71 202.5 905C199.38 907.29 197.08 910 195 912.5C192.92 915 191.33 917.5 190 920C188.67 922.5 187.71 925.42 187 927.5C186.29 929.58 185.96 931.67 185.75 932.5" fill="none" stroke="#1e1e1e" stroke-width="2.0" stroke-linejoin="round"/>
<rect x="128.75" y="942.5" width="56.25" height="6" fill="rgba(22,10,14,0.82)"/>
<rect x="160" y="896.55" width="25" height="4.4" fill="#d36878"/>
<rect x="130.5" y="958.3" width="54.5" height="4.4" fill="#d36878"/>
<rect x="185" y="865" width="48" height="6" fill="rgba(22,10,14,0.82)"/>
<rect x="185" y="840.3" width="43.75" height="4.4" fill="#d36878"/>
<rect x="185" y="880.8" width="55.5" height="4.4" fill="#d36878"/>
<path d="M328.75 751.25 L326.85 751.25C326.85 757.29 326.95 779.38 326.85 787.5C326.75 795.62 326.77 795.83 326.25 800C325.73 804.17 324.88 808.33 323.75 812.5C322.62 816.67 321.38 821.04 319.5 825C317.62 828.96 315.12 832.71 312.5 836.25C309.88 839.79 306.46 843.12 303.75 846.25C301.04 849.38 297.92 852.29 296.25 855C294.58 857.71 294.04 860.21 293.75 862.5C293.46 864.79 293.79 866.46 294.5 868.75C295.21 871.04 296.46 873.54 298 876.25C299.54 878.96 302.17 882.29 303.75 885C305.33 887.71 306.79 890.21 307.5 892.5C308.21 894.79 308.33 896.46 308 898.75C307.67 901.04 307.04 903.54 305.5 906.25C303.96 908.96 301.33 912.29 298.75 915C296.17 917.71 292.92 920 290 922.5C287.08 925 283.96 927.5 281.25 930C278.54 932.5 275.62 935 273.75 937.5C271.88 940 270.62 942.71 270 945C269.38 947.29 269.38 948.96 270 951.25C270.62 953.54 271.88 956.25 273.75 958.75C275.62 961.25 278.54 963.96 281.25 966.25C283.96 968.54 286.79 970.21 290 972.5C293.21 974.79 298.75 978.75 300.5 980L328.75 980 Z" fill="#f1c9c0"/><path d="M328.75 751.25 L326.85 751.25C326.85 757.29 326.95 779.38 326.85 787.5C326.75 795.62 326.77 795.83 326.25 800C325.73 804.17 324.88 808.33 323.75 812.5C322.62 816.67 321.38 821.04 319.5 825C317.62 828.96 315.12 832.71 312.5 836.25C309.88 839.79 306.46 843.12 303.75 846.25C301.04 849.38 297.92 852.29 296.25 855C294.58 857.71 294.04 860.21 293.75 862.5C293.46 864.79 293.79 866.46 294.5 868.75C295.21 871.04 296.46 873.54 298 876.25C299.54 878.96 302.17 882.29 303.75 885C305.33 887.71 306.79 890.21 307.5 892.5C308.21 894.79 308.33 896.46 308 898.75C307.67 901.04 307.04 903.54 305.5 906.25C303.96 908.96 301.33 912.29 298.75 915C296.17 917.71 292.92 920 290 922.5C287.08 925 283.96 927.5 281.25 930C278.54 932.5 275.62 935 273.75 937.5C271.88 940 270.62 942.71 270 945C269.38 947.29 269.38 948.96 270 951.25C270.62 953.54 271.88 956.25 273.75 958.75C275.62 961.25 278.54 963.96 281.25 966.25C283.96 968.54 286.79 970.21 290 972.5C293.21 974.79 298.75 978.75 300.5 980L328.75 980" fill="none" stroke="#1e1e1e" stroke-width="2.0" stroke-linejoin="round"/>
<path d="M328.75 791.25 L329 791.25C329.17 792.92 329.33 798.46 330 801.25C330.67 804.04 331.33 805.71 333 808C334.67 810.29 337.17 812.79 340 815C342.83 817.21 346.67 819.17 350 821.25C353.33 823.33 357.08 825.42 360 827.5C362.92 829.58 365.54 831.67 367.5 833.75C369.46 835.83 371.04 838.12 371.75 840C372.46 841.88 372.25 843.25 371.75 845C371.25 846.75 369.58 848.83 368.75 850.5C367.92 852.17 366.67 853.33 366.75 855C366.83 856.67 367.67 858.62 369.25 860.5C370.83 862.38 373.92 864.33 376.25 866.25C378.58 868.17 381.58 870.12 383.25 872C384.92 873.88 385.96 875.83 386.25 877.5C386.54 879.17 386.04 880.42 385 882C383.96 883.58 382.5 885.25 380 887C377.5 888.75 373.75 890.54 370 892.5C366.25 894.46 361.46 896.67 357.5 898.75C353.54 900.83 349.38 902.71 346.25 905C343.12 907.29 340.83 910 338.75 912.5C336.67 915 335.08 917.5 333.75 920C332.42 922.5 331.46 925.42 330.75 927.5C330.04 929.58 329.71 931.67 329.5 932.5L328.75 932.5 Z" fill="#6873ba"/><path d="M329 791.25C329.17 792.92 329.33 798.46 330 801.25C330.67 804.04 331.33 805.71 333 808C334.67 810.29 337.17 812.79 340 815C342.83 817.21 346.67 819.17 350 821.25C353.33 823.33 357.08 825.42 360 827.5C362.92 829.58 365.54 831.67 367.5 833.75C369.46 835.83 371.04 838.12 371.75 840C372.46 841.88 372.25 843.25 371.75 845C371.25 846.75 369.58 848.83 368.75 850.5C367.92 852.17 366.67 853.33 366.75 855C366.83 856.67 367.67 858.62 369.25 860.5C370.83 862.38 373.92 864.33 376.25 866.25C378.58 868.17 381.58 870.12 383.25 872C384.92 873.88 385.96 875.83 386.25 877.5C386.54 879.17 386.04 880.42 385 882C383.96 883.58 382.5 885.25 380 887C377.5 888.75 373.75 890.54 370 892.5C366.25 894.46 361.46 896.67 357.5 898.75C353.54 900.83 349.38 902.71 346.25 905C343.12 907.29 340.83 910 338.75 912.5C336.67 915 335.08 917.5 333.75 920C332.42 922.5 331.46 925.42 330.75 927.5C330.04 929.58 329.71 931.67 329.5 932.5" fill="none" stroke="#1e1e1e" stroke-width="2.0" stroke-linejoin="round"/>
<rect x="280" y="927" width="48.75" height="6" fill="rgba(22,10,14,0.82)"/>
<rect x="294.5" y="869.05" width="34.25" height="4.4" fill="#d36878"/>
<rect x="270" y="949.05" width="58.75" height="4.4" fill="#d36878"/>
<rect x="328.75" y="865" width="48" height="6" fill="rgba(22,10,14,0.82)"/>
<rect x="328.75" y="840.3" width="43.75" height="4.4" fill="#d36878"/>
<rect x="328.75" y="880.8" width="55.5" height="4.4" fill="#d36878"/>
</g>
<line x1="185" y1="718.05" x2="185" y2="978.1" stroke="#03095c" stroke-width="2.6"/>
<line x1="328.75" y1="718.05" x2="328.75" y2="978.1" stroke="#03095c" stroke-width="2.6"/>
<line x1="112.75" y1="719.25" x2="399.9" y2="719.25" stroke="rgba(10,10,10,0.72)" stroke-width="1.9" stroke-linecap="square"/>
<line x1="112.75" y1="977.6" x2="399.9" y2="977.6" stroke="rgba(10,10,10,0.72)" stroke-width="1.9" stroke-linecap="square"/>
<line x1="112.75" y1="719.25" x2="112.75" y2="977.6" stroke="rgba(10,10,10,0.72)" stroke-width="1.9" stroke-linecap="square"/>
<line x1="399.9" y1="719.25" x2="399.9" y2="977.6" stroke="rgba(10,10,10,0.72)" stroke-width="1.9" stroke-linecap="square"/>
<line x1="106.55" y1="719.25" x2="112.75" y2="719.25" stroke="rgba(10,10,10,0.72)" stroke-width="1.9"/>
<text x="102.4" y="728.95" font-size="27.3" text-anchor="end">500</text>
<line x1="106.55" y1="783.84" x2="112.75" y2="783.84" stroke="rgba(10,10,10,0.72)" stroke-width="1.9"/>
<text x="102.4" y="793.54" font-size="27.3" text-anchor="end">250</text>
<line x1="106.55" y1="848.42" x2="112.75" y2="848.42" stroke="rgba(10,10,10,0.72)" stroke-width="1.9"/>
<text x="102.4" y="858.12" font-size="27.3" text-anchor="end">0</text>
<line x1="106.55" y1="913.01" x2="112.75" y2="913.01" stroke="rgba(10,10,10,0.72)" stroke-width="1.9"/>
<text x="102.4" y="922.71" font-size="27.3" text-anchor="end">−250</text>
<line x1="106.55" y1="977.6" x2="112.75" y2="977.6" stroke="rgba(10,10,10,0.72)" stroke-width="1.9"/>
<text x="102.4" y="987.3" font-size="27.3" text-anchor="end">−500</text>
<line x1="185" y1="977.6" x2="185" y2="983.6" stroke="#26262c" stroke-width="1.5"/>
<text x="184.8" y="1009.1" font-size="27.3" text-anchor="middle">LSTM</text>
<line x1="328.75" y1="977.6" x2="328.75" y2="983.6" stroke="#26262c" stroke-width="1.5"/>
<text x="328.55" y="1009.1" font-size="27.3" text-anchor="middle">Transformer</text>
<g clip-path="url(#c21)">
<path d="M484.25 805 L483.25 805C483.12 806.25 483.25 809.79 482.5 812.5C481.75 815.21 480.42 818.33 478.75 821.25C477.08 824.17 474.58 827.08 472.5 830C470.42 832.92 467.92 835.83 466.25 838.75C464.58 841.67 463.33 844.79 462.5 847.5C461.67 850.21 461.67 852.29 461.25 855C460.83 857.71 460.71 860.83 460 863.75C459.29 866.67 458.46 869.38 457 872.5C455.54 875.62 453.46 879.38 451.25 882.5C449.04 885.62 446.46 888.33 443.75 891.25C441.04 894.17 437.5 897.08 435 900C432.5 902.92 430.21 906.04 428.75 908.75C427.29 911.46 426.54 913.75 426.25 916.25C425.96 918.75 426.38 921.25 427 923.75C427.62 926.25 429.08 928.54 430 931.25C430.92 933.96 431.75 937.08 432.5 940C433.25 942.92 433.58 945.83 434.5 948.75C435.42 951.67 436.46 954.58 438 957.5C439.54 960.42 441.54 963.54 443.75 966.25C445.96 968.96 448.88 971.46 451.25 973.75C453.62 976.04 456.88 978.96 458 980L484.25 980 Z" fill="#f1c9c0"/><path d="M483.25 805C483.12 806.25 483.25 809.79 482.5 812.5C481.75 815.21 480.42 818.33 478.75 821.25C477.08 824.17 474.58 827.08 472.5 830C470.42 832.92 467.92 835.83 466.25 838.75C464.58 841.67 463.33 844.79 462.5 847.5C461.67 850.21 461.67 852.29 461.25 855C460.83 857.71 460.71 860.83 460 863.75C459.29 866.67 458.46 869.38 457 872.5C455.54 875.62 453.46 879.38 451.25 882.5C449.04 885.62 446.46 888.33 443.75 891.25C441.04 894.17 437.5 897.08 435 900C432.5 902.92 430.21 906.04 428.75 908.75C427.29 911.46 426.54 913.75 426.25 916.25C425.96 918.75 426.38 921.25 427 923.75C427.62 926.25 429.08 928.54 430 931.25C430.92 933.96 431.75 937.08 432.5 940C433.25 942.92 433.58 945.83 434.5 948.75C435.42 951.67 436.46 954.58 438 957.5C439.54 960.42 441.54 963.54 443.75 966.25C445.96 968.96 448.88 971.46 451.25 973.75C453.62 976.04 456.88 978.96 458 980L484.25 980" fill="none" stroke="#1e1e1e" stroke-width="2.0" stroke-linejoin="round"/>
<path d="M484.25 732.5 L485 732.5C485.12 735 485.33 742.92 485.75 747.5C486.17 752.08 486.58 756.04 487.5 760C488.42 763.96 489.67 767.5 491.25 771.25C492.83 775 494.92 778.96 497 782.5C499.08 786.04 501.38 789.17 503.75 792.5C506.12 795.83 508.88 799.38 511.25 802.5C513.62 805.62 515.92 808.54 518 811.25C520.08 813.96 521.96 816.04 523.75 818.75C525.54 821.46 526.88 824.58 528.75 827.5C530.62 830.42 532.92 833.54 535 836.25C537.08 838.96 539.79 841.67 541.25 843.75C542.71 845.83 543.54 847.08 543.75 848.75C543.96 850.42 543.54 851.88 542.5 853.75C541.46 855.62 539.58 857.71 537.5 860C535.42 862.29 532.5 865 530 867.5C527.5 870 524.79 872.5 522.5 875C520.21 877.5 518.33 879.79 516.25 882.5C514.17 885.21 512.29 888.12 510 891.25C507.71 894.38 505 897.92 502.5 901.25C500 904.58 497.17 907.92 495 911.25C492.83 914.58 490.96 917.92 489.5 921.25C488.04 924.58 487 928.12 486.25 931.25C485.5 934.38 485.21 938.54 485 940L484.25 940 Z" fill="#6873ba"/><path d="M485 732.5C485.12 735 485.33 742.92 485.75 747.5C486.17 752.08 486.58 756.04 487.5 760C488.42 763.96 489.67 767.5 491.25 771.25C492.83 775 494.92 778.96 497 782.5C499.08 786.04 501.38 789.17 503.75 792.5C506.12 795.83 508.88 799.38 511.25 802.5C513.62 805.62 515.92 808.54 518 811.25C520.08 813.96 521.96 816.04 523.75 818.75C525.54 821.46 526.88 824.58 528.75 827.5C530.62 830.42 532.92 833.54 535 836.25C537.08 838.96 539.79 841.67 541.25 843.75C542.71 845.83 543.54 847.08 543.75 848.75C543.96 850.42 543.54 851.88 542.5 853.75C541.46 855.62 539.58 857.71 537.5 860C535.42 862.29 532.5 865 530 867.5C527.5 870 524.79 872.5 522.5 875C520.21 877.5 518.33 879.79 516.25 882.5C514.17 885.21 512.29 888.12 510 891.25C507.71 894.38 505 897.92 502.5 901.25C500 904.58 497.17 907.92 495 911.25C492.83 914.58 490.96 917.92 489.5 921.25C488.04 924.58 487 928.12 486.25 931.25C485.5 934.38 485.21 938.54 485 940" fill="none" stroke="#1e1e1e" stroke-width="2.0" stroke-linejoin="round"/>
<rect x="425.5" y="916.5" width="58.75" height="6" fill="rgba(22,10,14,0.82)"/>
<rect x="443.75" y="889.05" width="40.5" height="4.4" fill="#d36878"/>
<rect x="433" y="947.3" width="51.25" height="4.4" fill="#d36878"/>
<rect x="484.25" y="845.75" width="59.5" height="6" fill="rgba(22,10,14,0.82)"/>
<rect x="484.25" y="822.8" width="43.25" height="4.4" fill="#d36878"/>
<rect x="484.25" y="867.8" width="43.75" height="4.4" fill="#d36878"/>
<path d="M627.5 762.5 L627 762.5C626.75 764.58 626.33 770.83 625.5 775C624.67 779.17 623.54 783.33 622 787.5C620.46 791.67 618.46 796.04 616.25 800C614.04 803.96 611.12 807.71 608.75 811.25C606.38 814.79 603.79 817.92 602 821.25C600.21 824.58 598.83 827.92 598 831.25C597.17 834.58 597.08 837.92 597 841.25C596.92 844.58 597.5 847.92 597.5 851.25C597.5 854.58 597.5 857.92 597 861.25C596.5 864.58 595.88 867.92 594.5 871.25C593.12 874.58 590.96 877.92 588.75 881.25C586.54 884.58 583.75 887.92 581.25 891.25C578.75 894.58 575.71 898.12 573.75 901.25C571.79 904.38 570.33 906.88 569.5 910C568.67 913.12 568.67 916.67 568.75 920C568.83 923.33 569.17 926.67 570 930C570.83 933.33 572.08 936.67 573.75 940C575.42 943.33 577.71 946.67 580 950C582.29 953.33 584.79 956.67 587.5 960C590.21 963.33 593.12 966.67 596.25 970C599.38 973.33 604.58 978.33 606.25 980L627.5 980 Z" fill="#f1c9c0"/><path d="M627 762.5C626.75 764.58 626.33 770.83 625.5 775C624.67 779.17 623.54 783.33 622 787.5C620.46 791.67 618.46 796.04 616.25 800C614.04 803.96 611.12 807.71 608.75 811.25C606.38 814.79 603.79 817.92 602 821.25C600.21 824.58 598.83 827.92 598 831.25C597.17 834.58 597.08 837.92 597 841.25C596.92 844.58 597.5 847.92 597.5 851.25C597.5 854.58 597.5 857.92 597 861.25C596.5 864.58 595.88 867.92 594.5 871.25C593.12 874.58 590.96 877.92 588.75 881.25C586.54 884.58 583.75 887.92 581.25 891.25C578.75 894.58 575.71 898.12 573.75 901.25C571.79 904.38 570.33 906.88 569.5 910C568.67 913.12 568.67 916.67 568.75 920C568.83 923.33 569.17 926.67 570 930C570.83 933.33 572.08 936.67 573.75 940C575.42 943.33 577.71 946.67 580 950C582.29 953.33 584.79 956.67 587.5 960C590.21 963.33 593.12 966.67 596.25 970C599.38 973.33 604.58 978.33 606.25 980L627.5 980" fill="none" stroke="#1e1e1e" stroke-width="2.0" stroke-linejoin="round"/>
<path d="M627.5 732.5 L628.25 732.5C628.38 735 628.58 742.92 629 747.5C629.42 752.08 629.83 756.04 630.75 760C631.67 763.96 632.92 767.5 634.5 771.25C636.08 775 638.17 778.96 640.25 782.5C642.33 786.04 644.62 789.17 647 792.5C649.38 795.83 652.12 799.38 654.5 802.5C656.88 805.62 659.17 808.54 661.25 811.25C663.33 813.96 665.21 816.04 667 818.75C668.79 821.46 670.12 824.58 672 827.5C673.88 830.42 676.17 833.54 678.25 836.25C680.33 838.96 683.04 841.67 684.5 843.75C685.96 845.83 686.79 847.08 687 848.75C687.21 850.42 686.79 851.88 685.75 853.75C684.71 855.62 682.83 857.71 680.75 860C678.67 862.29 675.75 865 673.25 867.5C670.75 870 668.04 872.5 665.75 875C663.46 877.5 661.58 879.79 659.5 882.5C657.42 885.21 655.54 888.12 653.25 891.25C650.96 894.38 648.25 897.92 645.75 901.25C643.25 904.58 640.42 907.92 638.25 911.25C636.08 914.58 634.21 917.92 632.75 921.25C631.29 924.58 630.25 928.12 629.5 931.25C628.75 934.38 628.46 938.54 628.25 940L627.5 940 Z" fill="#6873ba"/><path d="M628.25 732.5C628.38 735 628.58 742.92 629 747.5C629.42 752.08 629.83 756.04 630.75 760C631.67 763.96 632.92 767.5 634.5 771.25C636.08 775 638.17 778.96 640.25 782.5C642.33 786.04 644.62 789.17 647 792.5C649.38 795.83 652.12 799.38 654.5 802.5C656.88 805.62 659.17 808.54 661.25 811.25C663.33 813.96 665.21 816.04 667 818.75C668.79 821.46 670.12 824.58 672 827.5C673.88 830.42 676.17 833.54 678.25 836.25C680.33 838.96 683.04 841.67 684.5 843.75C685.96 845.83 686.79 847.08 687 848.75C687.21 850.42 686.79 851.88 685.75 853.75C684.71 855.62 682.83 857.71 680.75 860C678.67 862.29 675.75 865 673.25 867.5C670.75 870 668.04 872.5 665.75 875C663.46 877.5 661.58 879.79 659.5 882.5C657.42 885.21 655.54 888.12 653.25 891.25C650.96 894.38 648.25 897.92 645.75 901.25C643.25 904.58 640.42 907.92 638.25 911.25C636.08 914.58 634.21 917.92 632.75 921.25C631.29 924.58 630.25 928.12 629.5 931.25C628.75 934.38 628.46 938.54 628.25 940" fill="none" stroke="#1e1e1e" stroke-width="2.0" stroke-linejoin="round"/>
<rect x="570" y="906.5" width="57.5" height="6" fill="rgba(22,10,14,0.82)"/>
<rect x="595" y="862.05" width="32.5" height="4.4" fill="#d36878"/>
<rect x="573" y="938.3" width="54.5" height="4.4" fill="#d36878"/>
<rect x="627.5" y="845.75" width="59.5" height="6" fill="rgba(22,10,14,0.82)"/>
<rect x="627.5" y="822.8" width="43.25" height="4.4" fill="#d36878"/>
<rect x="627.5" y="867.8" width="43.75" height="4.4" fill="#d36878"/>
</g>
<line x1="484.25" y1="718.05" x2="484.25" y2="978.1" stroke="#03095c" stroke-width="2.6"/>
<line x1="627.5" y1="718.05" x2="627.5" y2="978.1" stroke="#03095c" stroke-width="2.6"/>
<line x1="412.9" y1="719.25" x2="699.9" y2="719.25" stroke="rgba(10,10,10,0.72)" stroke-width="1.9" stroke-linecap="square"/>
<line x1="412.9" y1="977.6" x2="699.9" y2="977.6" stroke="rgba(10,10,10,0.72)" stroke-width="1.9" stroke-linecap="square"/>
<line x1="412.9" y1="719.25" x2="412.9" y2="977.6" stroke="rgba(10,10,10,0.72)" stroke-width="1.9" stroke-linecap="square"/>
<line x1="699.9" y1="719.25" x2="699.9" y2="977.6" stroke="rgba(10,10,10,0.72)" stroke-width="1.9" stroke-linecap="square"/>
<line x1="406.7" y1="719.25" x2="412.9" y2="719.25" stroke="rgba(10,10,10,0.72)" stroke-width="1.9"/>
<line x1="406.7" y1="783.84" x2="412.9" y2="783.84" stroke="rgba(10,10,10,0.72)" stroke-width="1.9"/>
<line x1="406.7" y1="848.42" x2="412.9" y2="848.42" stroke="rgba(10,10,10,0.72)" stroke-width="1.9"/>
<line x1="406.7" y1="913.01" x2="412.9" y2="913.01" stroke="rgba(10,10,10,0.72)" stroke-width="1.9"/>
<line x1="406.7" y1="977.6" x2="412.9" y2="977.6" stroke="rgba(10,10,10,0.72)" stroke-width="1.9"/>
<line x1="484.25" y1="977.6" x2="484.25" y2="983.6" stroke="#26262c" stroke-width="1.5"/>
<text x="484.05" y="1009.1" font-size="27.3" text-anchor="middle">LSTM</text>
<line x1="627.5" y1="977.6" x2="627.5" y2="983.6" stroke="#26262c" stroke-width="1.5"/>
<text x="627.3" y="1009.1" font-size="27.3" text-anchor="middle">Transformer</text>
<g clip-path="url(#c22)">
<path d="M781 736.25 L779.1 736.25C779.1 744.79 779.09 770.21 779.1 787.5C779.11 804.79 779.25 830 779.15 840C779.05 850 779.11 845 778.5 847.5C777.89 850 776.96 852.58 775.5 855C774.04 857.42 771.96 859.71 769.75 862C767.54 864.29 764.54 866.5 762.25 868.75C759.96 871 757.54 873.21 756 875.5C754.46 877.79 753.42 880.08 753 882.5C752.58 884.92 752.79 887.5 753.5 890C754.21 892.5 755.79 895 757.25 897.5C758.71 900 761 902.5 762.25 905C763.5 907.5 764.46 910.21 764.75 912.5C765.04 914.79 764.83 916.67 764 918.75C763.17 920.83 761.92 923 759.75 925C757.58 927 754.33 928.88 751 930.75C747.67 932.62 743.08 934.5 739.75 936.25C736.42 938 733.38 939.58 731 941.25C728.62 942.92 726.83 944.58 725.5 946.25C724.17 947.92 723.25 949.58 723 951.25C722.75 952.92 723.08 954.38 724 956.25C724.92 958.12 726.5 960.42 728.5 962.5C730.5 964.58 733.29 966.75 736 968.75C738.71 970.75 741.92 972.62 744.75 974.5C747.58 976.38 751.62 979.08 753 980L781 980 Z" fill="#f1c9c0"/><path d="M781 736.25 L779.1 736.25C779.1 744.79 779.09 770.21 779.1 787.5C779.11 804.79 779.25 830 779.15 840C779.05 850 779.11 845 778.5 847.5C777.89 850 776.96 852.58 775.5 855C774.04 857.42 771.96 859.71 769.75 862C767.54 864.29 764.54 866.5 762.25 868.75C759.96 871 757.54 873.21 756 875.5C754.46 877.79 753.42 880.08 753 882.5C752.58 884.92 752.79 887.5 753.5 890C754.21 892.5 755.79 895 757.25 897.5C758.71 900 761 902.5 762.25 905C763.5 907.5 764.46 910.21 764.75 912.5C765.04 914.79 764.83 916.67 764 918.75C763.17 920.83 761.92 923 759.75 925C757.58 927 754.33 928.88 751 930.75C747.67 932.62 743.08 934.5 739.75 936.25C736.42 938 733.38 939.58 731 941.25C728.62 942.92 726.83 944.58 725.5 946.25C724.17 947.92 723.25 949.58 723 951.25C722.75 952.92 723.08 954.38 724 956.25C724.92 958.12 726.5 960.42 728.5 962.5C730.5 964.58 733.29 966.75 736 968.75C738.71 970.75 741.92 972.62 744.75 974.5C747.58 976.38 751.62 979.08 753 980L781 980" fill="none" stroke="#1e1e1e" stroke-width="2.0" stroke-linejoin="round"/>
<path d="M781 791.25 L781.25 791.25C781.42 792.92 781.5 798.29 782.25 801.25C783 804.21 784.08 806.5 785.75 809C787.42 811.5 789.71 814 792.25 816.25C794.79 818.5 798.08 820.42 801 822.5C803.92 824.58 807.25 826.67 809.75 828.75C812.25 830.83 814.33 832.79 816 835C817.67 837.21 819.12 839.71 819.75 842C820.38 844.29 819.62 846.58 819.75 848.75C819.88 850.92 819.67 853.12 820.5 855C821.33 856.88 823 858.33 824.75 860C826.5 861.67 829.12 863.12 831 865C832.88 866.88 834.96 869.25 836 871.25C837.04 873.25 837.46 875.21 837.25 877C837.04 878.79 836.21 880.33 834.75 882C833.29 883.67 831.21 885.17 828.5 887C825.79 888.83 822.04 890.92 818.5 893C814.96 895.08 810.79 897.29 807.25 899.5C803.71 901.71 800.04 903.88 797.25 906.25C794.46 908.62 792.46 911.25 790.5 913.75C788.54 916.25 786.75 918.75 785.5 921.25C784.25 923.75 783.62 926.67 783 928.75C782.38 930.83 781.96 932.92 781.75 933.75L781 933.75 Z" fill="#6873ba"/><path d="M781.25 791.25C781.42 792.92 781.5 798.29 782.25 801.25C783 804.21 784.08 806.5 785.75 809C787.42 811.5 789.71 814 792.25 816.25C794.79 818.5 798.08 820.42 801 822.5C803.92 824.58 807.25 826.67 809.75 828.75C812.25 830.83 814.33 832.79 816 835C817.67 837.21 819.12 839.71 819.75 842C820.38 844.29 819.62 846.58 819.75 848.75C819.88 850.92 819.67 853.12 820.5 855C821.33 856.88 823 858.33 824.75 860C826.5 861.67 829.12 863.12 831 865C832.88 866.88 834.96 869.25 836 871.25C837.04 873.25 837.46 875.21 837.25 877C837.04 878.79 836.21 880.33 834.75 882C833.29 883.67 831.21 885.17 828.5 887C825.79 888.83 822.04 890.92 818.5 893C814.96 895.08 810.79 897.29 807.25 899.5C803.71 901.71 800.04 903.88 797.25 906.25C794.46 908.62 792.46 911.25 790.5 913.75C788.54 916.25 786.75 918.75 785.5 921.25C784.25 923.75 783.62 926.67 783 928.75C782.38 930.83 781.96 932.92 781.75 933.75" fill="none" stroke="#1e1e1e" stroke-width="2.0" stroke-linejoin="round"/>
<rect x="725.5" y="942.5" width="55.5" height="6" fill="rgba(22,10,14,0.82)"/>
<rect x="757.75" y="899.8" width="23.25" height="4.4" fill="#d36878"/>
<rect x="728" y="959.05" width="53" height="4.4" fill="#d36878"/>
<rect x="781" y="864.5" width="50.75" height="6" fill="rgba(22,10,14,0.82)"/>
<rect x="781" y="841.55" width="39.5" height="4.4" fill="#d36878"/>
<rect x="781" y="880.3" width="54.5" height="4.4" fill="#d36878"/>
<path d="M922.75 755 L920.9 755C920.9 760.42 920.99 779.58 920.9 787.5C920.81 795.42 920.77 797.92 920.38 802.5C919.98 807.08 919.56 810.83 918.5 815C917.44 819.17 915.88 823.75 914 827.5C912.12 831.25 909.62 834.38 907.25 837.5C904.88 840.62 902.04 843.54 899.75 846.25C897.46 848.96 895.04 851.25 893.5 853.75C891.96 856.25 891 858.75 890.5 861.25C890 863.75 890 866.25 890.5 868.75C891 871.25 892.17 873.75 893.5 876.25C894.83 878.75 896.92 881.25 898.5 883.75C900.08 886.25 902.08 888.75 903 891.25C903.92 893.75 904.12 896.25 904 898.75C903.88 901.25 903.5 903.62 902.25 906.25C901 908.88 898.88 911.88 896.5 914.5C894.12 917.12 890.92 919.62 888 922C885.08 924.38 881.75 926.38 879 928.75C876.25 931.12 873.46 933.75 871.5 936.25C869.54 938.75 868.17 941.46 867.25 943.75C866.33 946.04 865.79 947.71 866 950C866.21 952.29 867.04 955 868.5 957.5C869.96 960 872.25 962.71 874.75 965C877.25 967.29 879.88 968.75 883.5 971.25C887.12 973.75 894.33 978.54 896.5 980L922.75 980 Z" fill="#f1c9c0"/><path d="M922.75 755 L920.9 755C920.9 760.42 920.99 779.58 920.9 787.5C920.81 795.42 920.77 797.92 920.38 802.5C919.98 807.08 919.56 810.83 918.5 815C917.44 819.17 915.88 823.75 914 827.5C912.12 831.25 909.62 834.38 907.25 837.5C904.88 840.62 902.04 843.54 899.75 846.25C897.46 848.96 895.04 851.25 893.5 853.75C891.96 856.25 891 858.75 890.5 861.25C890 863.75 890 866.25 890.5 868.75C891 871.25 892.17 873.75 893.5 876.25C894.83 878.75 896.92 881.25 898.5 883.75C900.08 886.25 902.08 888.75 903 891.25C903.92 893.75 904.12 896.25 904 898.75C903.88 901.25 903.5 903.62 902.25 906.25C901 908.88 898.88 911.88 896.5 914.5C894.12 917.12 890.92 919.62 888 922C885.08 924.38 881.75 926.38 879 928.75C876.25 931.12 873.46 933.75 871.5 936.25C869.54 938.75 868.17 941.46 867.25 943.75C866.33 946.04 865.79 947.71 866 950C866.21 952.29 867.04 955 868.5 957.5C869.96 960 872.25 962.71 874.75 965C877.25 967.29 879.88 968.75 883.5 971.25C887.12 973.75 894.33 978.54 896.5 980L922.75 980" fill="none" stroke="#1e1e1e" stroke-width="2.0" stroke-linejoin="round"/>
<path d="M922.75 791.25 L923 791.25C923.17 792.92 923.25 798.29 924 801.25C924.75 804.21 925.83 806.5 927.5 809C929.17 811.5 931.46 814 934 816.25C936.54 818.5 939.83 820.42 942.75 822.5C945.67 824.58 949 826.67 951.5 828.75C954 830.83 956.08 832.79 957.75 835C959.42 837.21 960.88 839.71 961.5 842C962.12 844.29 961.38 846.58 961.5 848.75C961.62 850.92 961.42 853.12 962.25 855C963.08 856.88 964.75 858.33 966.5 860C968.25 861.67 970.88 863.12 972.75 865C974.62 866.88 976.71 869.25 977.75 871.25C978.79 873.25 979.21 875.21 979 877C978.79 878.79 977.96 880.33 976.5 882C975.04 883.67 972.96 885.17 970.25 887C967.54 888.83 963.79 890.92 960.25 893C956.71 895.08 952.54 897.29 949 899.5C945.46 901.71 941.79 903.88 939 906.25C936.21 908.62 934.21 911.25 932.25 913.75C930.29 916.25 928.5 918.75 927.25 921.25C926 923.75 925.38 926.67 924.75 928.75C924.12 930.83 923.71 932.92 923.5 933.75L922.75 933.75 Z" fill="#6873ba"/><path d="M923 791.25C923.17 792.92 923.25 798.29 924 801.25C924.75 804.21 925.83 806.5 927.5 809C929.17 811.5 931.46 814 934 816.25C936.54 818.5 939.83 820.42 942.75 822.5C945.67 824.58 949 826.67 951.5 828.75C954 830.83 956.08 832.79 957.75 835C959.42 837.21 960.88 839.71 961.5 842C962.12 844.29 961.38 846.58 961.5 848.75C961.62 850.92 961.42 853.12 962.25 855C963.08 856.88 964.75 858.33 966.5 860C968.25 861.67 970.88 863.12 972.75 865C974.62 866.88 976.71 869.25 977.75 871.25C978.79 873.25 979.21 875.21 979 877C978.79 878.79 977.96 880.33 976.5 882C975.04 883.67 972.96 885.17 970.25 887C967.54 888.83 963.79 890.92 960.25 893C956.71 895.08 952.54 897.29 949 899.5C945.46 901.71 941.79 903.88 939 906.25C936.21 908.62 934.21 911.25 932.25 913.75C930.29 916.25 928.5 918.75 927.25 921.25C926 923.75 925.38 926.67 924.75 928.75C924.12 930.83 923.71 932.92 923.5 933.75" fill="none" stroke="#1e1e1e" stroke-width="2.0" stroke-linejoin="round"/>
<rect x="873" y="928.25" width="49.75" height="6" fill="rgba(22,10,14,0.82)"/>
<rect x="891.5" y="872.05" width="31.25" height="4.4" fill="#d36878"/>
<rect x="865.5" y="949.05" width="57.25" height="4.4" fill="#d36878"/>
<rect x="922.75" y="864.5" width="50.75" height="6" fill="rgba(22,10,14,0.82)"/>
<rect x="922.75" y="841.55" width="39.5" height="4.4" fill="#d36878"/>
<rect x="922.75" y="880.3" width="54.5" height="4.4" fill="#d36878"/>
</g>
<line x1="781" y1="718.05" x2="781" y2="978.1" stroke="#03095c" stroke-width="2.6"/>
<line x1="922.75" y1="718.05" x2="922.75" y2="978.1" stroke="#03095c" stroke-width="2.6"/>
<line x1="709.1" y1="719.25" x2="995.25" y2="719.25" stroke="rgba(10,10,10,0.72)" stroke-width="1.9" stroke-linecap="square"/>
<line x1="709.1" y1="977.6" x2="995.25" y2="977.6" stroke="rgba(10,10,10,0.72)" stroke-width="1.9" stroke-linecap="square"/>
<line x1="709.1" y1="719.25" x2="709.1" y2="977.6" stroke="rgba(10,10,10,0.72)" stroke-width="1.9" stroke-linecap="square"/>
<line x1="995.25" y1="719.25" x2="995.25" y2="977.6" stroke="rgba(10,10,10,0.72)" stroke-width="1.9" stroke-linecap="square"/>
<line x1="702.9" y1="719.25" x2="709.1" y2="719.25" stroke="rgba(10,10,10,0.72)" stroke-width="1.9"/>
<line x1="702.9" y1="783.84" x2="709.1" y2="783.84" stroke="rgba(10,10,10,0.72)" stroke-width="1.9"/>
<line x1="702.9" y1="848.42" x2="709.1" y2="848.42" stroke="rgba(10,10,10,0.72)" stroke-width="1.9"/>
<line x1="702.9" y1="913.01" x2="709.1" y2="913.01" stroke="rgba(10,10,10,0.72)" stroke-width="1.9"/>
<line x1="702.9" y1="977.6" x2="709.1" y2="977.6" stroke="rgba(10,10,10,0.72)" stroke-width="1.9"/>
<line x1="781" y1="977.6" x2="781" y2="983.6" stroke="#26262c" stroke-width="1.5"/>
<text x="780.8" y="1009.1" font-size="27.3" text-anchor="middle">LSTM</text>
<line x1="922.75" y1="977.6" x2="922.75" y2="983.6" stroke="#26262c" stroke-width="1.5"/>
<text x="922.55" y="1009.1" font-size="27.3" text-anchor="middle">Transformer</text>
<text transform="translate(32.4 848.62) rotate(-90)" font-size="30.6" text-anchor="middle">Error of T</text>
<text x="280.2" y="21.1" font-size="30" text-anchor="middle">Early</text>
<text x="558.8" y="21.1" font-size="30" text-anchor="middle">Mid</text>
<text x="858.6" y="21.1" font-size="30" text-anchor="middle">Late</text>
<text x="248.7" y="1042.8" font-size="30" text-anchor="middle">Method</text>
<text x="548.2" y="1042.8" font-size="30" text-anchor="middle">Method</text>
<text x="845.1" y="1042.8" font-size="30" text-anchor="middle">Method</text>
</g>
<g filter="url(#nop)">
<rect x="1.3" y="1081.3" width="997.4" height="57.4" rx="8.5" ry="8.5" fill="#fff" stroke="#111" stroke-width="1.7"/>
<rect x="50" y="1098.9" width="44.8" height="25.5" rx="5" ry="5" fill="#f2c4bc" stroke="#1b2b57" stroke-width="1.8"/>
<text x="113.8" y="1122" font-size="30">Baselines</text>
<rect x="293.6" y="1098.9" width="44.8" height="25.5" rx="5" ry="5" fill="#5b66bf" stroke="#1b2b57" stroke-width="1.8"/>
<text x="357.4" y="1122" font-size="30" textLength="132.4" lengthAdjust="spacingAndGlyphs">GPT-Small</text>
<rect x="567" y="1107.1" width="45.5" height="9.1" fill="#000"/>
<text x="630.4" y="1122" font-size="30">Median</text>
<rect x="841.2" y="1108.1" width="45.1" height="7" fill="#d9687b"/>
<text x="904.4" y="1122" font-size="30">IQR</text>
</g>
</svg>
</body></html>
